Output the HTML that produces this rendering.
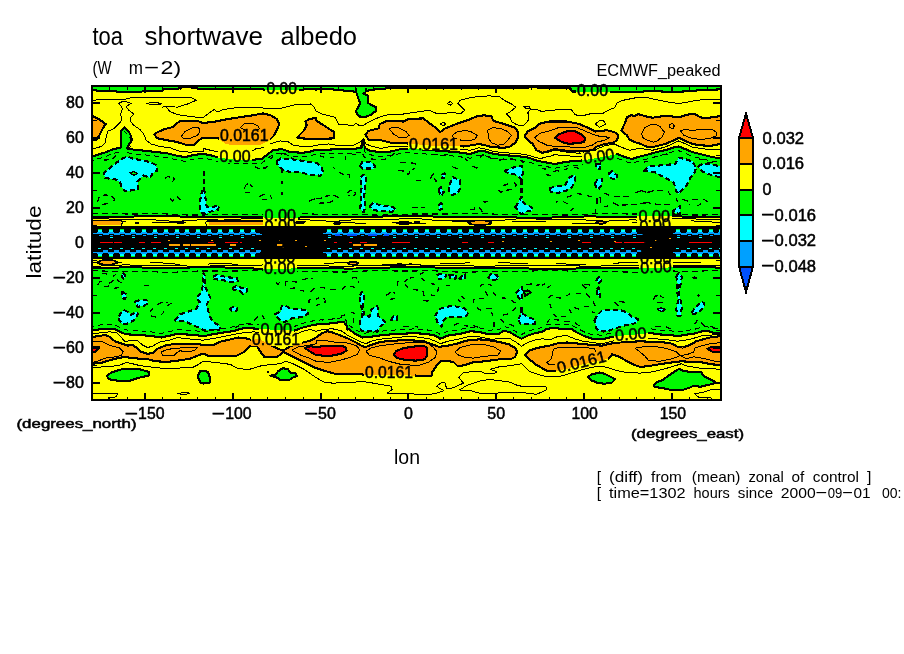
<!DOCTYPE html>
<html>
<head>
<meta charset="utf-8">
<title>toa shortwave albedo</title>
<style>
html,body{margin:0;padding:0;background:#fff;}
body{width:904px;height:654px;overflow:hidden;}
svg{display:block;}
text{font-family:"Liberation Sans",sans-serif;fill:#000;}
.n{stroke:#000;stroke-width:0.5px;}
</style>
</head>
<body>
<svg width="904" height="654" viewBox="0 0 904 654" shape-rendering="crispEdges">
<rect x="0" y="0" width="904" height="654" fill="#fff"/>
<defs>
<clipPath id="cp"><rect x="92" y="86" width="629" height="314"/></clipPath>
<mask id="lm" maskUnits="userSpaceOnUse" x="0" y="0" width="904" height="654">
<rect x="0" y="0" width="904" height="654" fill="#fff"/>
<rect x="265" y="82.5" width="33.5" height="12.5" fill="#000"/>
<rect x="575.5" y="84" width="34" height="12.5" fill="#000"/>
<rect x="218.5" y="129.5" width="51.5" height="17" fill="#000"/>
<rect x="218" y="150.5" width="34" height="12.5" fill="#000"/>
<rect x="407.5" y="138.5" width="52" height="11" fill="#000"/>
<rect x="583" y="152.5" width="34" height="12.5" fill="#000" transform="rotate(-9 584.5 164)"/>
<rect x="250.5" y="333.5" width="51" height="12.5" fill="#000"/>
<rect x="259" y="323.5" width="34.5" height="12.5" fill="#000"/>
<rect x="363.5" y="366.5" width="51" height="12.5" fill="#000"/>
<rect x="557" y="362" width="53" height="12.5" fill="#000" transform="rotate(-14 558.5 373.5)"/>
<rect x="614" y="329.5" width="34.5" height="12.5" fill="#000" transform="rotate(-5 615.5 341)"/>
<rect x="263" y="209.5" width="34.5" height="12.5" fill="#000"/>
<rect x="263.5" y="220.5" width="34.5" height="12.5" fill="#000" transform="rotate(-4 265 232)"/>
<rect x="262.5" y="252.5" width="34.5" height="12.5" fill="#000" transform="rotate(-3 264 264)"/>
<rect x="262.5" y="262" width="34.5" height="12.5" fill="#000"/>
<rect x="637" y="210.5" width="34.5" height="12.5" fill="#000"/>
<rect x="638.5" y="220.5" width="34.5" height="12.5" fill="#000" transform="rotate(-5 640 232)"/>
<rect x="638.5" y="252.5" width="34.5" height="12.5" fill="#000"/>
<rect x="639" y="262" width="34.5" height="12.5" fill="#000" transform="rotate(-3 640.5 273.5)"/>
</mask>
<g id="plot" stroke-linejoin="round" stroke-linecap="butt">
<rect x="92" y="86" width="629" height="314" fill="#ffff00"/>
<polygon points="90,84 90,90.25 96.25,90.25 97,91 116.25,91 117.5,92.25 140,92.25 142.5,91.25 161.25,91.25 163.75,89.25 177.5,89 180,87.5 190,87.25 192.5,88 203,89 215.5,89 261.75,89 265.5,90.25 303,90.25 304.25,89 316,89.5 328.5,89 341,90.25 353.5,91.5 356,92.25 366,90.88 373.5,89.62 391,88 429,87.75 527.75,87.75 529,87 542,87.75 570.75,88.5 572,91.5 612,92 640,92 640,91.75 652.5,90.88 671.25,92.12 683.75,91.5 700,90.25 722.5,89.25 723,84" fill="#00fa00" stroke="#000" stroke-width="2.1"/>
<polygon points="88.75,157.12 92.5,156.5 100,154 106.25,152.12 113.75,149 120.62,147.75 120.62,131.5 124.38,127.12 128.75,131.5 130.62,135.25 131.88,140.25 129.38,144 126.88,148.38 133.75,149.62 146.25,150.88 157.5,152.12 167.5,153.38 177.5,155.88 185,157.12 192.5,155.25 203,153.75 210.5,155.25 219.25,157.75 234.25,159.62 254.25,159.62 261.75,159 268,154 273,150.25 281.75,149 290.5,152.12 303,152.75 310.5,151.5 316,149.75 328.5,149.62 341,149 353.5,149 361,147.75 362.88,139.62 365,147.75 368.5,150.25 378.5,152.12 391,151.5 401,149 411,148.38 416,149 429,150 441.5,150.88 456.5,152.12 470.25,154 479,150.88 485.25,151.5 494,154 504,155.25 516.5,155.88 529,157.75 535.25,160.25 542,161.75 548.25,162.75 554.5,164 567,161.75 582,160.5 598.25,157.75 617,154 627,157.75 632,159 640,156.5 647.5,154.62 656.25,152.12 665,150.25 672.5,147.75 678.75,146.5 685,149 692.5,152.12 702.5,154.62 710,156.5 723.75,159.25 725,225 88,225" fill="#00fa00" stroke="#000" stroke-width="2.1"/>
<polygon points="88,260 725,260 723.75,333.75 712.5,332.5 706.25,330.62 700,331.88 693.75,333.75 683.75,335 677.5,336.25 671.25,335 658.75,334.38 651.25,333.12 640,334 629.5,335 614.5,336.25 609.5,337.5 602,339.38 592,338.75 584.5,336.25 577,332.5 572,329.38 562,328.75 553.25,328.12 547,328.75 542,331.88 535.25,333.12 527.75,335.62 521.5,338.75 516.5,336.25 510.25,332.5 504,330.62 499,333.75 489,334.38 479,331.88 470.25,331.25 460.25,333.75 447.75,335.62 440.25,338.75 435.25,335.62 429,334.38 423.5,333.75 413.5,333.12 403.5,333.75 391,334.38 378.5,335.62 369.75,336.88 362.25,337.5 354.75,333.75 348.5,328.75 347.25,329.75 346.62,325.5 343.5,321.75 328.5,323.62 316,324.5 310.5,325.62 303,327.5 294.25,330.62 278,330 258,328.75 246.75,328.12 240.5,328.75 235.5,330.62 228,331.88 219.25,333.12 209.25,335 203,336.5 196.25,335 185,334.38 177.5,333.75 170,335.62 161.25,337.5 152.5,336.25 140,335 127.5,334.38 122.5,333.12 115,329.38 102.5,328.75 92.5,330.62 88.75,330.62" fill="#00fa00" stroke="#000" stroke-width="2.1"/>
<polygon points="88.75,115.25 92.5,115.88 97.5,118.38 102.5,121.5 105.62,124 102.5,129 99.38,135.25 96.25,139.62 92.5,140.25 88.75,140.25" fill="#ffa500" stroke="#000" stroke-width="2.1"/>
<polygon points="154.38,134.62 157.5,132.12 165,129 172.5,127.12 180,120.88 197.5,120.88 203,123 215.5,121.5 228,119 240.5,117.12 253,115.25 263,113.38 270.5,115.25 276.75,119 279.25,124 276.75,130.25 274.25,135.25 269.25,140.25 259.25,145.25 234.25,145.25 225.5,144 218,138 203,137.75 198.75,140.25 193.75,145.25 187.5,145.25 177.5,142.12 167.5,140.25 157.5,138.38" fill="#ffa500" stroke="#000" stroke-width="2.1"/>
<polygon points="297.38,137.75 299.25,135.25 304.25,130.25 306.75,125.25 305.5,121.5 309.25,119 316,118 316,120.25 323.5,125.25 334.12,132.12 334.12,138.38 316,139 303,138.5" fill="#ffa500" stroke="#000" stroke-width="2.1"/>
<polygon points="365.38,134.62 368.5,130.88 378.5,128.38 379.75,124 387.25,120.88 403.5,121.5 408.5,119 423.5,118.38 429,123 434,126.5 440.25,132.12 445.25,128.38 457.75,123.38 469,119.62 476.5,116.5 484,115.25 491.5,116.5 493.38,120.88 504,124 515.25,127.75 517.75,131.5 517.75,137.75 515.25,142.75 510.25,146.5 504,147.75 491.5,147.12 485.25,145.25 479,144 464,146.5 457.75,146.12 429,145.5 408.5,143.5 403.5,143.38 391,142.75 381,140.25 368.5,139.62" fill="#ffa500" stroke="#000" stroke-width="2.1"/>
<polygon points="524.62,135.88 527.75,131.5 535.25,127.75 539,124 542,123.12 549.5,121.5 567,121.5 579.5,124 592,129.62 595.75,131.5 607,130.25 614.5,132.12 618.25,135.25 617,140.25 613.25,142.75 604.5,144 597,146.5 592,150.25 579.5,151.5 567,150.88 554.5,149 547,151.5 542,152.75 536.5,150.25 532.75,144 526.5,139" fill="#ffa500" stroke="#000" stroke-width="2.1"/>
<polygon points="621.38,130.88 624.5,124 627,117.12 630.75,115.25 634.5,115.88 638.25,114 640,114.62 646.25,116.5 652.5,117.75 658.75,116.75 665,115.88 672.5,116.5 680,117.12 687.5,114.62 695,114 700,117.12 705,118.38 712.5,117.12 723.75,115.62 723.75,142.75 715,145.25 710,145.88 700,145.25 692.5,144 685,140.88 678.75,137.75 672.5,140.88 665,144 652.5,147.12 646.25,146.5 640,143.62 634.5,142.12 629.5,139.62 627,135.25" fill="#ffa500" stroke="#000" stroke-width="2.1"/>
<polygon points="555.12,137.75 559.5,134 568.25,130.88 575.75,131.5 582,134.62 585.12,138.38 583.88,142.12 575.75,143.38 568.25,143.75 562,142.12" fill="#ff0000" stroke="#000" stroke-width="2.1"/>
<polygon points="356,89 356.25,92.25 358.5,99 360.38,103.38 356,110.88 357.25,114.62 359.75,116.5 366,116.75 371,114.62 376,110.88 376,107.12 371,104.62 367.88,102.75 368.5,95.88 363.25,93.38 366,90.88 366,89" fill="#00fa00" stroke="#000" stroke-width="2.1"/>
<rect x="357" y="87" width="8" height="5" fill="#00fa00"/>
<polygon points="88.75,337.5 97.5,336.25 105,335 108.75,336.25 115,341.25 122.5,343.75 127.5,345.62 132.5,345 136.25,347.5 141.25,351.88 147.5,353.75 152.5,353.12 157.5,348.75 165,345.62 175,343.75 185,343.75 196.25,343.75 203,345 210.5,345 215.5,344.38 219.25,341.88 228,340 238,337.5 245.5,338.12 251.75,340 259.25,338.75 268,343.75 278,348.75 283,350.62 290.5,346.25 299.25,343.75 303,342.5 310.5,340.62 316,337.5 322.25,333.12 327.25,331.25 332.25,332.5 341,335.62 348.5,338.75 356,342.5 362.25,346.25 366,346.88 371,345 378.5,342.5 386,341.25 396,340.62 403.5,340 416,340.62 423.5,341.25 429,343.12 439,346.88 447.75,345.62 456.5,343.75 466.5,340.62 479,339.38 487.75,340 499,341.88 509,344.38 515.25,348.12 517.12,351.88 515.25,356.88 510.25,359.38 499,359.38 485.25,361.25 472.75,362.5 465.25,365 457.75,366.25 454,362.5 447.75,360.62 440.25,361.25 435.25,367.5 432.12,372.5 431.5,375.62 429,375.62 421,375.62 366,375 356,373.75 334.75,373.75 326,371.25 316,368.12 308,364.38 300.5,360.62 290.5,355.62 283,351.88 281.75,353.75 276.75,356.88 264.25,356.88 259.25,350 256.75,345.62 249.25,346.25 244.25,351.88 236.75,355.62 221.75,356.25 208,355.62 203,353.5 190,358.75 177.5,360.62 167.5,361.88 155,361.25 146.25,358.75 140,358.75 132.5,358.12 125,356.88 115,358.75 102.5,362.5 92.5,363.75 88.75,363.75" fill="#ffa500" stroke="#000" stroke-width="2.1"/>
<polygon points="525.25,355 529,350.62 536.5,348.12 542,346.88 549.5,345.62 558.25,343.12 567,342.5 579.5,343.75 592,345 602,345.62 609.5,343.75 619.5,342.5 629.5,341.88 640,341.25 652.5,341.88 665,342.5 672.5,343.75 677.5,346.88 682.5,347.5 690,345 696.25,341.25 705,338.75 712.5,336.88 723.75,336 723.75,365.25 712.5,364.38 702.5,362.5 690,361.88 681.25,361.25 671.25,362.5 658.75,364.38 647.5,366.25 640,366.88 634.5,365 627,361.25 619.5,356.88 612,354.38 609.5,358.12 602,360.62 592,362.5 579.5,365 567,368.75 557,370.62 547,370.62 542,368.12 536.5,365 530.25,360" fill="#ffa500" stroke="#000" stroke-width="2.1"/>
<polygon points="304.88,348.12 310.5,346.25 316,346.88 323.5,346.25 341,345.62 346,347.5 346.62,350.62 341,353.75 328.5,356.25 316,355 310.5,351.88" fill="#ff0000" stroke="#000" stroke-width="2.1"/>
<polygon points="393.5,355 396,351.25 403.5,348.12 416,346.25 423.5,345.62 426.62,347.5 426.62,356.25 424.75,359.38 416,360.62 406,360 397.25,358.12" fill="#ff0000" stroke="#000" stroke-width="2.1"/>
<polygon points="88.75,347.25 99.38,347.5 97.5,350 95,351.88 88.75,352.12" fill="#ff0000" stroke="#000" stroke-width="2.1"/>
<polygon points="707.5,348.75 711.25,346.88 723.75,346.88 723.75,352.12 712.5,351.88" fill="#ff0000" stroke="#000" stroke-width="2.1"/>
<polygon points="106.88,376.25 111.25,372.5 121.25,369.38 131.25,368.75 140,369.38 148.75,371.88 148.75,375.62 140,377.5 130,380.62 117.5,380.62 109.38,379.38" fill="#00fa00" stroke="#000" stroke-width="2.1"/>
<polygon points="198.12,375 200,371.25 203,370.62 208,371.88 209.25,376.25 210.5,378.75 209.25,383.12 203,383.5 200.62,382.5 198.12,377.5" fill="#00fa00" stroke="#000" stroke-width="2.1"/>
<polygon points="270.5,375.62 275.5,375 278,371.25 283,368.12 288,369.38 290.5,372.5 295.5,373.12 296.75,376.25 293,377.5 289.25,380 280.5,380 276.75,377.5" fill="#00fa00" stroke="#000" stroke-width="2.1"/>
<polygon points="266.38,372.25 268,370.25 269.5,372.25 268,374" fill="#000" stroke="#000" stroke-width="0"/>
<polygon points="587.62,376.88 592,374.38 599.5,372.5 604.5,373.75 612,377.5 615.12,379.38 612,382.5 604.5,383.75 598.25,383.12 592,380.62" fill="#00fa00" stroke="#000" stroke-width="2.1"/>
<polygon points="653.75,385 656.25,382.5 662.5,380 668.75,375.62 675,371.25 679.38,368.75 683.75,371.25 692.5,371.88 701.25,372.5 703.75,376.25 710,379.38 715,381.88 713.75,383.75 707.5,385 700,386.88 693.75,385.62 690,387.5 682.5,390 671.25,390 662.5,388.12 655,386.88" fill="#00fa00" stroke="#000" stroke-width="2.1"/>
<polygon points="115,164 121.25,159 127.5,156.5 133.75,159 142.5,160.25 150,162.1 156,165 157.5,170.4 152.5,173.5 150,177.9 143.75,175.4 137.5,181 138.1,189.75 131.25,190.4 125,191 121.9,187.9 120,182.25 115,179.1 108.75,178.5 105,177.9 103.75,173.5 107.5,169.75" fill="#00ffff" stroke="#000" stroke-width="2.1" stroke-dasharray="5 3"/>
<polygon points="130,172.88 133.75,171.62 137.5,173.5 133.75,175.38" fill="#00fa00" stroke="#000" stroke-width="1.5"/>
<polygon points="276.75,161.5 280.5,158.4 290.5,159 303,160.9 316,162.75 321,166 323.5,173.5 319.75,176 316,174.5 309.25,174.75 300.5,172.25 290.5,172.25 283,169.75 278,166" fill="#00ffff" stroke="#000" stroke-width="2.1" stroke-dasharray="5 3"/>
<polyline points="203.75,171 203.75,192" fill="none" stroke="#000" stroke-width="2.1" stroke-dasharray="5 3"/>
<polyline points="282,170 282,200" fill="none" stroke="#000" stroke-width="2.1" stroke-dasharray="3 8"/>
<polygon points="202,191 204.5,191 206.75,207.25 219.25,206 218,209.75 210.5,211.6 205.5,214 200.5,212 200,201" fill="#00ffff" stroke="#000" stroke-width="2.1" stroke-dasharray="5 3"/>
<polygon points="360.38,177.25 362.88,174.75 366,176.62 365.38,186 364.12,197.25 365.38,207.25 363.5,212.25 360.38,208.5 361,197.25 361.62,186" fill="#00ffff" stroke="#000" stroke-width="2.1" stroke-dasharray="5 3"/>
<polygon points="360,166 362.25,162 370,162 375,166 374,168.5 362,168.5" fill="#00ffff" stroke="#000" stroke-width="2.1" stroke-dasharray="5 3"/>
<polygon points="369.75,206 373.5,202.25 378.5,204.75 387.25,206 393.5,207.25 396,209.75 392.25,211.62 381,211.25 372.25,209.75" fill="#00ffff" stroke="#000" stroke-width="2.1" stroke-dasharray="5 3"/>
<polygon points="449.62,184.75 452.75,177.25 455.88,178.5 460.25,179.75 459.62,189.75 456.5,194.12 450.88,194.75 449,191" fill="#00ffff" stroke="#000" stroke-width="2.1" stroke-dasharray="5 3"/>
<polygon points="438.38,189.75 440.88,187.25 444,192.25 440.88,196" fill="#00ffff" stroke="#000" stroke-width="2.1" stroke-dasharray="5 3"/>
<polygon points="439,204.75 441.5,202.88 442.12,208.5 439.62,210.38" fill="#00ffff" stroke="#000" stroke-width="2.1" stroke-dasharray="5 3"/>
<polygon points="441.5,174.75 444.62,173.5 445.25,177.88 442.12,178.5" fill="#00ffff" stroke="#000" stroke-width="2.1" stroke-dasharray="5 3"/>
<polygon points="504,171 514,167.25 522.12,166 522.75,173.5 521.5,179.75 516.5,174.75 509,173.5" fill="#00ffff" stroke="#000" stroke-width="2.1" stroke-dasharray="5 3"/>
<polyline points="521.5,179.75 521.5,197.25" fill="none" stroke="#000" stroke-width="2.1" stroke-dasharray="5 3"/>
<polygon points="515.25,207.25 519,201 521.5,197.25 524,203.5 531.5,207.25 532.75,210.38 526.5,211.62 521.5,214.12 517.75,210.38" fill="#00ffff" stroke="#000" stroke-width="2.1" stroke-dasharray="5 3"/>
<polygon points="549.5,188.5 554.5,186.62 564.5,186 569.5,177.25 574.5,175.38 575.12,179.75 572,187.25 567,190.38 558.25,192.88 550.75,191.62" fill="#00ffff" stroke="#000" stroke-width="2.1" stroke-dasharray="5 3"/>
<polygon points="595.12,183.5 597.62,179.12 602,178.5 601.38,184.75 598.25,189.75 595.75,187.25" fill="#00ffff" stroke="#000" stroke-width="2.1" stroke-dasharray="5 3"/>
<polygon points="608.88,173.5 612,171 617,175.38 616.38,179.12 612,178.5 609.5,177.25" fill="#00ffff" stroke="#000" stroke-width="2.1" stroke-dasharray="5 3"/>
<polygon points="595.75,163.5 600.75,163.5 600.12,169.12 597,169.12" fill="#00ffff" stroke="#000" stroke-width="2.1" stroke-dasharray="5 3"/>
<polygon points="643.75,171 648,166.5 660,165.5 675,164 678.75,157.75 685,159 692.5,161.5 695,165.75 696.25,166 695,172.25 690,178.5 686.25,186 681.25,191 678.75,194 676.25,191 673.75,182.25 665,177.9 655,172.25" fill="#00ffff" stroke="#000" stroke-width="2.1" stroke-dasharray="5 3"/>
<polygon points="698.25,166.5 703,163.5 712,164.5 723,167 723,178 712,175.25 702,171.5" fill="#00ffff" stroke="#000" stroke-width="2.1" stroke-dasharray="5 3"/>
<polygon points="671.88,211.62 680,206 680,214.12" fill="#00ffff" stroke="#000" stroke-width="2.1" stroke-dasharray="5 3"/>
<polygon points="118.75,316.12 123.75,309.88 127.5,311.75 131.25,314.88 136.25,311.75 138.12,313.62 133.75,320.5 127.5,323.62 122.5,324.25 119.38,320.5" fill="#00ffff" stroke="#000" stroke-width="2.1" stroke-dasharray="5 3"/>
<polygon points="135,301.75 140,299.88 146.25,299.88 148.12,303 143.75,306.12 137.5,306.75" fill="#00ffff" stroke="#000" stroke-width="2.1" stroke-dasharray="5 3"/>
<polygon points="121.88,291.75 126.25,294.25 125,299.25 122.5,298" fill="#00ffff" stroke="#000" stroke-width="2.1" stroke-dasharray="5 3"/>
<polygon points="122.5,273 125,274.88 124.38,279.25 122.25,277.38" fill="#00ffff" stroke="#000" stroke-width="2.1" stroke-dasharray="5 3"/>
<polygon points="175,320.5 180,314.25 187.5,311.75 196.25,309.25 200,301.75 196.5,298 201,293 203,285 203.5,273 205.5,276.75 204.5,285.5 210.5,298 206.75,304.25 209.25,315.5 213,321.75 220.5,326.75 219,330 205,330.5 195,326 185,321.5" fill="#00ffff" stroke="#000" stroke-width="2.1" stroke-dasharray="5 3"/>
<polygon points="213,276.75 216.75,274.88 228,277.38 236.75,278 238,281.12 231.75,282.38 221.75,279.88 214.25,279.25" fill="#00ffff" stroke="#000" stroke-width="2.1" stroke-dasharray="5 3"/>
<polygon points="231.75,288 236.12,286.12 241.75,288 246.75,287.38 246.75,291.75 243,293.62 239.25,290.5 234.25,289.88" fill="#00ffff" stroke="#000" stroke-width="2.1" stroke-dasharray="5 3"/>
<polygon points="229.88,309.25 233,306.75 237.38,308 236.75,310.5 232.38,311.12" fill="#00ffff" stroke="#000" stroke-width="2.1" stroke-dasharray="5 3"/>
<polygon points="274.88,314.25 280.5,311.75 281.75,306.12 285.5,305.5 290.5,308.62 298,309.25 306.75,309.88 308,313.62 303,316.75 295.5,318 290.5,318.62 284.25,322.38 279.25,319.25" fill="#00ffff" stroke="#000" stroke-width="2.1" stroke-dasharray="5 3"/>
<polygon points="359.75,295.5 362.25,291.75 364.12,295.5 363.5,303 362.88,308 364.12,315.5 369.75,316.75 371.62,309.25 377.25,306.12 378.5,310.5 377.88,315.5 383.5,320.5 386,323 381,325.5 378.5,329.75 377.88,331.5 366,331.12 361.62,330.5 359.75,328 359.75,323 362.25,315.5 361.62,308 360.38,303" fill="#00ffff" stroke="#000" stroke-width="2.1" stroke-dasharray="5 3"/>
<polygon points="391,319.88 393.5,316.12 397.25,316.12 397.25,319.88" fill="#00ffff" stroke="#000" stroke-width="2.1" stroke-dasharray="5 3"/>
<polygon points="435.25,316.12 439,309.25 445.25,306.75 454,306.12 464,308 468.38,313 465.25,316.75 456.5,316.75 446.5,317.38 442.75,321.75 441.5,326.75 437.75,323" fill="#00ffff" stroke="#000" stroke-width="2.1" stroke-dasharray="5 3"/>
<polygon points="437.12,274.88 441.5,273.62 446.5,274.88 444,278.62 439,279.25" fill="#00ffff" stroke="#000" stroke-width="2.1" stroke-dasharray="5 3"/>
<polygon points="449,274.88 456.5,274.88 455.88,278.62 450.25,278" fill="#00ffff" stroke="#000" stroke-width="2.1" stroke-dasharray="5 3"/>
<polygon points="459,278.62 465.25,273.62 464.62,278.62" fill="#00ffff" stroke="#000" stroke-width="2.1" stroke-dasharray="5 3"/>
<polygon points="488.38,277.38 491.5,273.62 496.5,274.88 499,278 495.25,279.88 490.25,279.25" fill="#00ffff" stroke="#000" stroke-width="2.1" stroke-dasharray="5 3"/>
<polygon points="515.88,293 521.5,286.75 522.75,290.5 521.5,300.5 519,298" fill="#00ffff" stroke="#000" stroke-width="2.1" stroke-dasharray="5 3"/>
<polygon points="524,291.75 527.75,290.5 530.88,292.38 527.75,294.25 525.25,296.12" fill="none" stroke="#000" stroke-width="2.1"/>
<polyline points="521.5,306.75 521.5,313" fill="none" stroke="#000" stroke-width="2.1"/>
<polygon points="518.38,319.25 521.5,313 526.5,316.12 535.25,319.88 535.25,323.62 527.75,324.25 520.25,323.62" fill="#00ffff" stroke="#000" stroke-width="2.1" stroke-dasharray="5 3"/>
<polygon points="594.5,320.5 597,315.5 602,310.5 612,309.88 622,310.5 628.25,313 632,316.75 638.25,319.25 637,323 629.5,324.25 622,326.12 614.5,328.62 612,329.5 608.25,331.12 603.25,331.5 598.25,330.5 595.75,328 595.75,325.5" fill="#00ffff" stroke="#000" stroke-width="2.1" stroke-dasharray="5 3"/>
<polygon points="596.38,280.5 598.88,276.75 601.38,280.5 598.88,283" fill="#00ffff" stroke="#000" stroke-width="2.1" stroke-dasharray="5 3"/>
<polygon points="597,289.25 598.88,287.38 600.12,296.75 597.62,296.12" fill="#00ffff" stroke="#000" stroke-width="2.1" stroke-dasharray="5 3"/>
<polygon points="676.25,276.75 678.75,273 681.88,276.75 680.62,284.25 678.75,293 680.62,300.5 681.88,306.75 680.62,315.5 677.5,316.12 676.25,309.25 678.12,300.5 677.5,293 677.5,283" fill="#00ffff" stroke="#000" stroke-width="2.1" stroke-dasharray="5 3"/>
<polygon points="691.25,313 695,308 701.25,301.75 704.38,303 703.75,308 698.75,311.75 693.75,314.25" fill="#00ffff" stroke="#000" stroke-width="2.1" stroke-dasharray="5 3"/>
<polygon points="691.25,278 694.38,276.12 698.12,278 695,279.5" fill="#000" stroke="#000" stroke-width="0"/>
<polygon points="696.88,295.5 698.75,294 700.62,295.75 698.75,297" fill="#000" stroke="#000" stroke-width="0"/>
<polygon points="657.5,309.25 661.25,308 665.62,309.5 661.88,311.75" fill="#00ffff" stroke="#000" stroke-width="1.5"/>
<polygon points="92,217.42 98,217.46 104,217.44 110,217.35 116,217.2 122,216.98 128,216.74 134,216.49 140,216.28 146,216.13 152,216.05 158,216.05 164,216.12 170,216.25 176,216.4 182,216.55 188,216.67 194,216.74 200,216.76 206,216.73 212,216.66 218,216.59 224,216.54 230,216.54 236,216.6 242,216.72 248,216.9 254,217.12 260,217.36 266,217.57 272,217.73 278,217.82 284,217.83 290,217.76 296,217.62 302,217.45 308,217.26 314,217.09 320,216.97 326,216.9 332,216.88 338,216.92 344,216.97 350,217.03 356,217.06 362,217.04 368,216.96 374,216.82 380,216.63 386,216.42 392,216.22 398,216.06 404,215.96 410,215.94 416,216.01 422,216.15 428,216.34 434,216.56 440,216.76 446,216.94 452,217.05 458,217.11 464,217.11 470,217.06 476,217 482,216.95 488,216.93 494,216.96 500,217.05 506,217.2 512,217.37 518,217.54 524,217.7 530,217.8 536,217.82 542,217.76 548,217.63 554,217.43 560,217.2 566,216.97 572,216.76 578,216.6 584,216.51 590,216.48 596,216.51 602,216.58 608,216.65 614,216.71 620,216.73 626,216.69 632,216.61 638,216.48 644,216.33 650,216.2 656,216.1 662,216.07 668,216.11 674,216.24 680,216.43 686,216.66 692,216.91 698,217.15 704,217.34 710,217.46 716,217.51 722,217.49 722,267.72 716,267.52 710,267.33 704,267.18 698,267.08 692,267.04 686,267.08 680,267.17 674,267.32 668,267.49 662,267.68 656,267.85 650,267.99 644,268.08 638,268.12 632,268.12 626,268.08 620,268.03 614,267.98 608,267.95 602,267.96 596,268.02 590,268.12 584,268.27 578,268.44 572,268.61 566,268.76 560,268.88 554,268.94 548,268.93 542,268.86 536,268.73 530,268.55 524,268.34 518,268.14 512,267.95 506,267.81 500,267.71 494,267.67 488,267.68 482,267.72 476,267.78 470,267.84 464,267.88 458,267.88 452,267.83 446,267.75 440,267.62 434,267.48 428,267.34 422,267.22 416,267.14 410,267.12 404,267.17 398,267.28 392,267.45 386,267.65 380,267.87 374,268.09 368,268.28 362,268.42 356,268.5 350,268.53 344,268.51 338,268.45 332,268.37 326,268.29 320,268.24 314,268.22 308,268.24 302,268.31 296,268.4 290,268.52 284,268.63 278,268.71 272,268.75 266,268.74 260,268.66 254,268.52 248,268.33 242,268.11 236,267.88 230,267.67 224,267.49 218,267.37 212,267.3 206,267.3 200,267.35 194,267.44 188,267.54 182,267.64 176,267.72 170,267.76 164,267.76 158,267.72 152,267.65 146,267.56 140,267.48 134,267.42 128,267.41 122,267.45 116,267.55 110,267.71 104,267.91 98,268.13 92,268.36" fill="#ffff00" stroke="#000" stroke-width="2"/>
<rect x="92" y="226" width="629" height="33" fill="#000"/>
<polyline points="92,218.59 98,218.52 104,218.73 110,219.09 116,219.42 122,219.58 128,219.54 134,219.38 140,219.26 146,219.32 152,219.64 158,220.15 164,220.7 170,221.09 176,221.2 182,221.01 188,220.6 194,220.16 200,219.86 206,219.77 212,219.87 218,220 224,220.02 230,219.82 236,219.41 242,218.91 248,218.51 254,218.36 260,218.53 266,218.96 272,219.47 278,219.9 284,220.11 290,220.09 296,219.95 302,219.85 308,219.92 314,220.21 320,220.63 326,221.01 332,221.18 338,221.05 344,220.63 350,220.07 356,219.55 362,219.24 368,219.18 374,219.31 380,219.48 386,219.54 392,219.4 398,219.09 404,218.75 410,218.56 416,218.65 422,219.03 428,219.6 434,220.18 440,220.58 446,220.72 452,220.6 458,220.37 464,220.19 470,220.18 476,220.35 482,220.62 488,220.81 494,220.78 500,220.46 506,219.92 512,219.31 518,218.85 524,218.65 530,218.74 536,219.01 542,219.31 548,219.47 554,219.44 560,219.25 566,219.07 572,219.05 578,219.3 584,219.78 590,220.36 596,220.86 602,221.12 608,221.06 614,220.76 620,220.37 626,220.06 632,219.95 638,220.04 644,220.19 650,220.26 656,220.12 662,219.73 668,219.2 674,218.7 680,218.41 686,218.43 692,218.73 698,219.19 704,219.62 710,219.86 716,219.89 722,219.77" fill="none" stroke="#000" stroke-width="1"/>
<polyline points="92,221.2 98,220.88 104,220.71 110,220.74 116,220.96 122,221.31 128,221.73 134,222.13 140,222.43 146,222.59 152,222.61 158,222.52 164,222.4 170,222.32 176,222.34 182,222.5 188,222.78 194,223.14 200,223.49 206,223.75 212,223.85 218,223.76 224,223.49 230,223.08 236,222.61 242,222.17 248,221.85 254,221.67 260,221.65 266,221.75 272,221.89 278,222.01 284,222.03 290,221.93 296,221.71 302,221.42 308,221.14 314,220.94 320,220.9 326,221.04 332,221.36 338,221.81 344,222.31 350,222.76 356,223.09 362,223.26 368,223.26 374,223.14 380,222.95 386,222.78 392,222.69 398,222.73 404,222.88 410,223.1 416,223.32 422,223.46 428,223.46 434,223.28 440,222.93 446,222.46 452,221.96 458,221.51 464,221.19 470,221.05 476,221.09 482,221.26 488,221.51 494,221.74 500,221.89 506,221.93 512,221.84 518,221.68 524,221.51 530,221.41 536,221.45 542,221.65 548,222.01 554,222.47 560,222.96 566,223.38 572,223.66 578,223.76 584,223.67 590,223.43 596,223.12 602,222.82 608,222.6 614,222.51 620,222.53 626,222.65 632,222.78 638,222.86 644,222.81 650,222.61 656,222.27 662,221.83 668,221.38 674,221 680,220.77 686,220.73 692,220.89 698,221.19 704,221.56 710,221.93 716,222.2 722,222.35" fill="none" stroke="#000" stroke-width="1" stroke-dasharray="34 26"/>
<polyline points="92,262.46 98,262.59 104,262.78 110,262.95 116,263.02 122,262.94 128,262.74 134,262.49 140,262.28 146,262.19 152,262.3 158,262.61 164,263.08 170,263.62 176,264.12 182,264.47 188,264.63 194,264.58 200,264.39 206,264.13 212,263.9 218,263.78 224,263.81 230,263.95 236,264.14 242,264.29 248,264.31 254,264.14 260,263.78 266,263.3 272,262.77 278,262.32 284,262.03 290,261.96 296,262.09 302,262.37 308,262.7 314,262.98 320,263.15 326,263.17 332,263.07 338,262.92 344,262.82 350,262.85 356,263.05 362,263.41 368,263.89 374,264.37 380,264.75 386,264.95 392,264.93 398,264.7 404,264.34 410,263.94 416,263.6 422,263.4 428,263.36 434,263.43 440,263.56 446,263.64 452,263.6 458,263.4 464,263.05 470,262.61 476,262.2 482,261.9 488,261.8 494,261.93 500,262.25 506,262.69 512,263.14 518,263.51 524,263.73 530,263.77 536,263.69 542,263.56 548,263.47 554,263.5 560,263.68 566,264 572,264.37 578,264.71 584,264.91 590,264.9 596,264.68 602,264.27 608,263.77 614,263.29 620,262.92 626,262.71 632,262.69 638,262.8 644,262.97 650,263.08 656,263.09 662,262.95 668,262.69 674,262.39 680,262.13 686,262.03 692,262.12 698,262.43 704,262.9 710,263.43 716,263.92 722,264.27" fill="none" stroke="#000" stroke-width="1" stroke-dasharray="30 28"/>
<polyline points="92,266.16 98,266.13 104,265.91 110,265.56 116,265.21 122,264.99 128,264.96 134,265.1 140,265.29 146,265.41 152,265.41 158,265.3 164,265.2 170,265.21 176,265.4 182,265.73 188,266.07 194,266.3 200,266.33 206,266.17 212,265.94 218,265.74 224,265.68 230,265.74 236,265.83 242,265.83 248,265.68 254,265.39 260,265.07 266,264.85 272,264.82 278,264.99 284,265.27 290,265.53 296,265.66 302,265.64 308,265.56 314,265.52 320,265.62 326,265.86 332,266.15 338,266.36 344,266.38 350,266.19 356,265.88 362,265.58 368,265.39 374,265.37 380,265.45 386,265.53 392,265.49 398,265.31 404,265.07 410,264.89 416,264.87 422,265.06 428,265.39 434,265.73 440,265.95 446,266 452,265.92 458,265.8 464,265.77 470,265.88 476,266.07 482,266.23 488,266.24 494,266.06 500,265.72 506,265.36 512,265.11 518,265.04 524,265.14 530,265.3 536,265.39 542,265.37 548,265.24 554,265.1 560,265.09 566,265.25 572,265.57 578,265.94 584,266.2 590,266.28 596,266.17 602,265.97 608,265.8 614,265.76 620,265.83 626,265.94 632,265.96 638,265.83 644,265.53 650,265.19 656,264.92 662,264.84 668,264.96 674,265.2 680,265.43 686,265.55 692,265.53 698,265.44 704,265.4 710,265.5 716,265.75 722,266.07" fill="none" stroke="#000" stroke-width="1"/>
<rect x="92" y="220.6" width="29" height="4.4" fill="#ffa500"/>
<polyline points="92,220.3 121,220.3 122.5,222.5 121,225.3" fill="none" stroke="#000" stroke-width="1.2"/>
<rect x="209" y="221.4" width="54" height="3.6" fill="#ffa500"/>
<polyline points="263,221 207,221 205,223 207,225.3" fill="none" stroke="#000" stroke-width="1.2"/>
<ellipse cx="480" cy="222.8" rx="12.6" ry="3.2" fill="#000"/>
<ellipse cx="480" cy="222.8" rx="9" ry="1.6" fill="#ffa500"/>
<ellipse cx="107.5" cy="262.3" rx="11.1" ry="3.2" fill="#000"/>
<ellipse cx="107.5" cy="262.3" rx="7.5" ry="1.6" fill="#ffa500"/>
<ellipse cx="353" cy="263.3" rx="6.6" ry="2.3" fill="#000"/>
<ellipse cx="353" cy="263.3" rx="3" ry="0.7" fill="#ffa500"/>
<ellipse cx="601" cy="222.5" rx="5.6" ry="2.2" fill="#000"/>
<ellipse cx="601" cy="222.5" rx="2" ry="0.6" fill="#ffa500"/>
<ellipse cx="180.5" cy="222.5" rx="3.8" ry="1.8" fill="#000"/>
<ellipse cx="337" cy="223.5" rx="4" ry="1.5" fill="#000"/>
<ellipse cx="404" cy="223" rx="8" ry="2" fill="#000"/>
<ellipse cx="417" cy="222" rx="3" ry="1.2" fill="#000"/>
<ellipse cx="399.5" cy="264" rx="3" ry="1.2" fill="#000"/>
<ellipse cx="137" cy="223" rx="2" ry="1" fill="#000"/>
<ellipse cx="300" cy="222.5" rx="5" ry="1.5" fill="#000"/>
<rect x="98" y="229" width="4" height="1" fill="#00fa00"/>
<rect x="98" y="230" width="4" height="2" fill="#00ffff"/>
<rect x="97" y="232" width="6" height="2" fill="#00a0ff"/>
<rect x="103" y="234" width="6" height="1" fill="#00a0ff"/>
<rect x="99" y="235" width="3" height="1" fill="#00a0ff"/>
<rect x="98" y="256" width="4" height="1" fill="#00fa00"/>
<rect x="98" y="254" width="4" height="2" fill="#00ffff"/>
<rect x="97" y="252" width="6" height="2" fill="#00a0ff"/>
<rect x="103" y="250" width="5" height="2" fill="#00a0ff"/>
<rect x="98" y="248" width="3" height="1" fill="#00ffff"/>
<rect x="109" y="229" width="4" height="1" fill="#00fa00"/>
<rect x="109" y="230" width="4" height="2" fill="#00ffff"/>
<rect x="108" y="232" width="6" height="2" fill="#00a0ff"/>
<rect x="114" y="234" width="6" height="1" fill="#00a0ff"/>
<rect x="110" y="235" width="3" height="1" fill="#00a0ff"/>
<rect x="110" y="237" width="3" height="1" fill="#00ffff"/>
<rect x="109" y="256" width="4" height="1" fill="#00fa00"/>
<rect x="109" y="254" width="4" height="2" fill="#00ffff"/>
<rect x="108" y="252" width="6" height="2" fill="#00a0ff"/>
<rect x="114" y="250" width="5" height="2" fill="#00a0ff"/>
<rect x="109" y="248" width="3" height="1" fill="#00ffff"/>
<rect x="120" y="229" width="4" height="1" fill="#00fa00"/>
<rect x="120" y="230" width="4" height="2" fill="#00ffff"/>
<rect x="119" y="232" width="6" height="2" fill="#00a0ff"/>
<rect x="125" y="234" width="6" height="1" fill="#00a0ff"/>
<rect x="121" y="235" width="3" height="1" fill="#00a0ff"/>
<rect x="120" y="256" width="4" height="1" fill="#00fa00"/>
<rect x="120" y="254" width="4" height="2" fill="#00ffff"/>
<rect x="119" y="252" width="6" height="2" fill="#00a0ff"/>
<rect x="125" y="250" width="5" height="2" fill="#00a0ff"/>
<rect x="120" y="248" width="3" height="1" fill="#00ffff"/>
<rect x="131" y="229" width="4" height="1" fill="#00fa00"/>
<rect x="131" y="230" width="4" height="2" fill="#00ffff"/>
<rect x="130" y="232" width="6" height="2" fill="#00a0ff"/>
<rect x="136" y="234" width="6" height="1" fill="#00a0ff"/>
<rect x="132" y="235" width="3" height="1" fill="#00a0ff"/>
<rect x="132" y="237" width="3" height="1" fill="#00ffff"/>
<rect x="131" y="256" width="4" height="1" fill="#00fa00"/>
<rect x="131" y="254" width="4" height="2" fill="#00ffff"/>
<rect x="130" y="252" width="6" height="2" fill="#00a0ff"/>
<rect x="136" y="250" width="5" height="2" fill="#00a0ff"/>
<rect x="131" y="248" width="3" height="1" fill="#00ffff"/>
<rect x="142" y="229" width="4" height="1" fill="#00fa00"/>
<rect x="142" y="230" width="4" height="2" fill="#00ffff"/>
<rect x="141" y="232" width="6" height="2" fill="#00a0ff"/>
<rect x="147" y="234" width="6" height="1" fill="#00a0ff"/>
<rect x="143" y="235" width="3" height="1" fill="#00a0ff"/>
<rect x="142" y="256" width="4" height="1" fill="#00fa00"/>
<rect x="142" y="254" width="4" height="2" fill="#00ffff"/>
<rect x="141" y="252" width="6" height="2" fill="#00a0ff"/>
<rect x="147" y="250" width="5" height="2" fill="#00a0ff"/>
<rect x="142" y="248" width="3" height="1" fill="#00ffff"/>
<rect x="153" y="229" width="4" height="1" fill="#00fa00"/>
<rect x="153" y="230" width="4" height="2" fill="#00ffff"/>
<rect x="152" y="232" width="6" height="2" fill="#00a0ff"/>
<rect x="158" y="234" width="6" height="1" fill="#00a0ff"/>
<rect x="154" y="235" width="3" height="1" fill="#00a0ff"/>
<rect x="154" y="237" width="3" height="1" fill="#00ffff"/>
<rect x="153" y="256" width="4" height="1" fill="#00fa00"/>
<rect x="153" y="254" width="4" height="2" fill="#00ffff"/>
<rect x="152" y="252" width="6" height="2" fill="#00a0ff"/>
<rect x="158" y="250" width="5" height="2" fill="#00a0ff"/>
<rect x="153" y="248" width="3" height="1" fill="#00ffff"/>
<rect x="164" y="229" width="4" height="1" fill="#00fa00"/>
<rect x="164" y="230" width="4" height="2" fill="#00ffff"/>
<rect x="163" y="232" width="6" height="2" fill="#00a0ff"/>
<rect x="169" y="234" width="6" height="1" fill="#00a0ff"/>
<rect x="165" y="235" width="3" height="1" fill="#00a0ff"/>
<rect x="164" y="256" width="4" height="1" fill="#00fa00"/>
<rect x="164" y="254" width="4" height="2" fill="#00ffff"/>
<rect x="163" y="252" width="6" height="2" fill="#00a0ff"/>
<rect x="169" y="250" width="5" height="2" fill="#00a0ff"/>
<rect x="164" y="248" width="3" height="1" fill="#00ffff"/>
<rect x="175" y="229" width="4" height="1" fill="#00fa00"/>
<rect x="175" y="230" width="4" height="2" fill="#00ffff"/>
<rect x="174" y="232" width="6" height="2" fill="#00a0ff"/>
<rect x="180" y="234" width="6" height="1" fill="#00a0ff"/>
<rect x="176" y="235" width="3" height="1" fill="#00a0ff"/>
<rect x="176" y="237" width="3" height="1" fill="#00ffff"/>
<rect x="175" y="256" width="4" height="1" fill="#00fa00"/>
<rect x="175" y="254" width="4" height="2" fill="#00ffff"/>
<rect x="174" y="252" width="6" height="2" fill="#00a0ff"/>
<rect x="180" y="250" width="5" height="2" fill="#00a0ff"/>
<rect x="175" y="248" width="3" height="1" fill="#00ffff"/>
<rect x="185" y="229" width="4" height="1" fill="#00fa00"/>
<rect x="185" y="230" width="4" height="2" fill="#00ffff"/>
<rect x="184" y="232" width="6" height="2" fill="#00a0ff"/>
<rect x="190" y="234" width="6" height="1" fill="#00a0ff"/>
<rect x="186" y="235" width="3" height="1" fill="#00a0ff"/>
<rect x="185" y="256" width="4" height="1" fill="#00fa00"/>
<rect x="185" y="254" width="4" height="2" fill="#00ffff"/>
<rect x="184" y="252" width="6" height="2" fill="#00a0ff"/>
<rect x="190" y="250" width="5" height="2" fill="#00a0ff"/>
<rect x="185" y="248" width="3" height="1" fill="#00ffff"/>
<rect x="196" y="229" width="4" height="1" fill="#00fa00"/>
<rect x="196" y="230" width="4" height="2" fill="#00ffff"/>
<rect x="195" y="232" width="6" height="2" fill="#00a0ff"/>
<rect x="201" y="234" width="6" height="1" fill="#00a0ff"/>
<rect x="197" y="235" width="3" height="1" fill="#00a0ff"/>
<rect x="197" y="237" width="3" height="1" fill="#00ffff"/>
<rect x="196" y="256" width="4" height="1" fill="#00fa00"/>
<rect x="196" y="254" width="4" height="2" fill="#00ffff"/>
<rect x="195" y="252" width="6" height="2" fill="#00a0ff"/>
<rect x="201" y="250" width="5" height="2" fill="#00a0ff"/>
<rect x="196" y="248" width="3" height="1" fill="#00ffff"/>
<rect x="207" y="229" width="4" height="1" fill="#00fa00"/>
<rect x="207" y="230" width="4" height="2" fill="#00ffff"/>
<rect x="206" y="232" width="6" height="2" fill="#00a0ff"/>
<rect x="212" y="234" width="6" height="1" fill="#00a0ff"/>
<rect x="208" y="235" width="3" height="1" fill="#00a0ff"/>
<rect x="207" y="256" width="4" height="1" fill="#00fa00"/>
<rect x="207" y="254" width="4" height="2" fill="#00ffff"/>
<rect x="206" y="252" width="6" height="2" fill="#00a0ff"/>
<rect x="212" y="250" width="5" height="2" fill="#00a0ff"/>
<rect x="207" y="248" width="3" height="1" fill="#00ffff"/>
<rect x="218" y="229" width="4" height="1" fill="#00fa00"/>
<rect x="218" y="230" width="4" height="2" fill="#00ffff"/>
<rect x="217" y="232" width="6" height="2" fill="#00a0ff"/>
<rect x="223" y="234" width="6" height="1" fill="#00a0ff"/>
<rect x="219" y="235" width="3" height="1" fill="#00a0ff"/>
<rect x="219" y="237" width="3" height="1" fill="#00ffff"/>
<rect x="218" y="256" width="4" height="1" fill="#00fa00"/>
<rect x="218" y="254" width="4" height="2" fill="#00ffff"/>
<rect x="217" y="252" width="6" height="2" fill="#00a0ff"/>
<rect x="223" y="250" width="5" height="2" fill="#00a0ff"/>
<rect x="218" y="248" width="3" height="1" fill="#00ffff"/>
<rect x="229" y="229" width="4" height="1" fill="#00fa00"/>
<rect x="229" y="230" width="4" height="2" fill="#00ffff"/>
<rect x="228" y="232" width="6" height="2" fill="#00a0ff"/>
<rect x="234" y="234" width="6" height="1" fill="#00a0ff"/>
<rect x="230" y="235" width="3" height="1" fill="#00a0ff"/>
<rect x="229" y="256" width="4" height="1" fill="#00fa00"/>
<rect x="229" y="254" width="4" height="2" fill="#00ffff"/>
<rect x="228" y="252" width="6" height="2" fill="#00a0ff"/>
<rect x="234" y="250" width="5" height="2" fill="#00a0ff"/>
<rect x="229" y="248" width="3" height="1" fill="#00ffff"/>
<rect x="240" y="229" width="4" height="1" fill="#00fa00"/>
<rect x="240" y="230" width="4" height="2" fill="#00ffff"/>
<rect x="239" y="232" width="6" height="2" fill="#00a0ff"/>
<rect x="245" y="234" width="6" height="1" fill="#00a0ff"/>
<rect x="241" y="235" width="3" height="1" fill="#00a0ff"/>
<rect x="241" y="237" width="3" height="1" fill="#00ffff"/>
<rect x="240" y="256" width="4" height="1" fill="#00fa00"/>
<rect x="240" y="254" width="4" height="2" fill="#00ffff"/>
<rect x="239" y="252" width="6" height="2" fill="#00a0ff"/>
<rect x="245" y="250" width="5" height="2" fill="#00a0ff"/>
<rect x="240" y="248" width="3" height="1" fill="#00ffff"/>
<rect x="251" y="229" width="4" height="1" fill="#00fa00"/>
<rect x="251" y="230" width="4" height="2" fill="#00ffff"/>
<rect x="250" y="232" width="6" height="2" fill="#00a0ff"/>
<rect x="256" y="234" width="6" height="1" fill="#00a0ff"/>
<rect x="252" y="235" width="3" height="1" fill="#00a0ff"/>
<rect x="251" y="256" width="4" height="1" fill="#00fa00"/>
<rect x="251" y="254" width="4" height="2" fill="#00ffff"/>
<rect x="250" y="252" width="6" height="2" fill="#00a0ff"/>
<rect x="256" y="250" width="5" height="2" fill="#00a0ff"/>
<rect x="251" y="248" width="3" height="1" fill="#00ffff"/>
<rect x="327" y="229" width="4" height="1" fill="#00fa00"/>
<rect x="327" y="230" width="4" height="2" fill="#00ffff"/>
<rect x="326" y="232" width="6" height="2" fill="#00a0ff"/>
<rect x="332" y="234" width="6" height="1" fill="#00a0ff"/>
<rect x="328" y="235" width="3" height="1" fill="#00a0ff"/>
<rect x="328" y="237" width="3" height="1" fill="#00ffff"/>
<rect x="327" y="256" width="4" height="1" fill="#00fa00"/>
<rect x="327" y="254" width="4" height="2" fill="#00ffff"/>
<rect x="326" y="252" width="6" height="2" fill="#00a0ff"/>
<rect x="332" y="250" width="5" height="2" fill="#00a0ff"/>
<rect x="327" y="248" width="3" height="1" fill="#00ffff"/>
<rect x="338" y="229" width="4" height="1" fill="#00fa00"/>
<rect x="338" y="230" width="4" height="2" fill="#00ffff"/>
<rect x="337" y="232" width="6" height="2" fill="#00a0ff"/>
<rect x="343" y="234" width="6" height="1" fill="#00a0ff"/>
<rect x="339" y="235" width="3" height="1" fill="#00a0ff"/>
<rect x="338" y="256" width="4" height="1" fill="#00fa00"/>
<rect x="338" y="254" width="4" height="2" fill="#00ffff"/>
<rect x="337" y="252" width="6" height="2" fill="#00a0ff"/>
<rect x="343" y="250" width="5" height="2" fill="#00a0ff"/>
<rect x="338" y="248" width="3" height="1" fill="#00ffff"/>
<rect x="349" y="229" width="4" height="1" fill="#00fa00"/>
<rect x="349" y="230" width="4" height="2" fill="#00ffff"/>
<rect x="348" y="232" width="6" height="2" fill="#00a0ff"/>
<rect x="354" y="234" width="6" height="1" fill="#00a0ff"/>
<rect x="350" y="235" width="3" height="1" fill="#00a0ff"/>
<rect x="350" y="237" width="3" height="1" fill="#00ffff"/>
<rect x="349" y="256" width="4" height="1" fill="#00fa00"/>
<rect x="349" y="254" width="4" height="2" fill="#00ffff"/>
<rect x="348" y="252" width="6" height="2" fill="#00a0ff"/>
<rect x="354" y="250" width="5" height="2" fill="#00a0ff"/>
<rect x="349" y="248" width="3" height="1" fill="#00ffff"/>
<rect x="360" y="229" width="4" height="1" fill="#00fa00"/>
<rect x="360" y="230" width="4" height="2" fill="#00ffff"/>
<rect x="359" y="232" width="6" height="2" fill="#00a0ff"/>
<rect x="365" y="234" width="6" height="1" fill="#00a0ff"/>
<rect x="361" y="235" width="3" height="1" fill="#00a0ff"/>
<rect x="360" y="256" width="4" height="1" fill="#00fa00"/>
<rect x="360" y="254" width="4" height="2" fill="#00ffff"/>
<rect x="359" y="252" width="6" height="2" fill="#00a0ff"/>
<rect x="365" y="250" width="5" height="2" fill="#00a0ff"/>
<rect x="360" y="248" width="3" height="1" fill="#00ffff"/>
<rect x="371" y="229" width="4" height="1" fill="#00fa00"/>
<rect x="371" y="230" width="4" height="2" fill="#00ffff"/>
<rect x="370" y="232" width="6" height="2" fill="#00a0ff"/>
<rect x="376" y="234" width="6" height="1" fill="#00a0ff"/>
<rect x="372" y="235" width="3" height="1" fill="#00a0ff"/>
<rect x="372" y="237" width="3" height="1" fill="#00ffff"/>
<rect x="371" y="256" width="4" height="1" fill="#00fa00"/>
<rect x="371" y="254" width="4" height="2" fill="#00ffff"/>
<rect x="370" y="252" width="6" height="2" fill="#00a0ff"/>
<rect x="376" y="250" width="5" height="2" fill="#00a0ff"/>
<rect x="371" y="248" width="3" height="1" fill="#00ffff"/>
<rect x="382" y="229" width="4" height="1" fill="#00fa00"/>
<rect x="382" y="230" width="4" height="2" fill="#00ffff"/>
<rect x="381" y="232" width="6" height="2" fill="#00a0ff"/>
<rect x="387" y="234" width="6" height="1" fill="#00a0ff"/>
<rect x="383" y="235" width="3" height="1" fill="#00a0ff"/>
<rect x="382" y="256" width="4" height="1" fill="#00fa00"/>
<rect x="382" y="254" width="4" height="2" fill="#00ffff"/>
<rect x="381" y="252" width="6" height="2" fill="#00a0ff"/>
<rect x="387" y="250" width="5" height="2" fill="#00a0ff"/>
<rect x="382" y="248" width="3" height="1" fill="#00ffff"/>
<rect x="392" y="229" width="4" height="1" fill="#00fa00"/>
<rect x="392" y="230" width="4" height="2" fill="#00ffff"/>
<rect x="391" y="232" width="6" height="2" fill="#00a0ff"/>
<rect x="397" y="234" width="6" height="1" fill="#00a0ff"/>
<rect x="393" y="235" width="3" height="1" fill="#00a0ff"/>
<rect x="393" y="237" width="3" height="1" fill="#00ffff"/>
<rect x="392" y="256" width="4" height="1" fill="#00fa00"/>
<rect x="392" y="254" width="4" height="2" fill="#00ffff"/>
<rect x="391" y="252" width="6" height="2" fill="#00a0ff"/>
<rect x="397" y="250" width="5" height="2" fill="#00a0ff"/>
<rect x="392" y="248" width="3" height="1" fill="#00ffff"/>
<rect x="403" y="229" width="4" height="1" fill="#00fa00"/>
<rect x="403" y="230" width="4" height="2" fill="#00ffff"/>
<rect x="402" y="232" width="6" height="2" fill="#00a0ff"/>
<rect x="408" y="234" width="6" height="1" fill="#00a0ff"/>
<rect x="404" y="235" width="3" height="1" fill="#00a0ff"/>
<rect x="403" y="256" width="4" height="1" fill="#00fa00"/>
<rect x="403" y="254" width="4" height="2" fill="#00ffff"/>
<rect x="402" y="252" width="6" height="2" fill="#00a0ff"/>
<rect x="408" y="250" width="5" height="2" fill="#00a0ff"/>
<rect x="403" y="248" width="3" height="1" fill="#00ffff"/>
<rect x="414" y="229" width="4" height="1" fill="#00fa00"/>
<rect x="414" y="230" width="4" height="2" fill="#00ffff"/>
<rect x="413" y="232" width="6" height="2" fill="#00a0ff"/>
<rect x="419" y="234" width="6" height="1" fill="#00a0ff"/>
<rect x="415" y="235" width="3" height="1" fill="#00a0ff"/>
<rect x="415" y="237" width="3" height="1" fill="#00ffff"/>
<rect x="414" y="256" width="4" height="1" fill="#00fa00"/>
<rect x="414" y="254" width="4" height="2" fill="#00ffff"/>
<rect x="413" y="252" width="6" height="2" fill="#00a0ff"/>
<rect x="419" y="250" width="5" height="2" fill="#00a0ff"/>
<rect x="414" y="248" width="3" height="1" fill="#00ffff"/>
<rect x="425" y="229" width="4" height="1" fill="#00fa00"/>
<rect x="425" y="230" width="4" height="2" fill="#00ffff"/>
<rect x="424" y="232" width="6" height="2" fill="#00a0ff"/>
<rect x="430" y="234" width="6" height="1" fill="#00a0ff"/>
<rect x="426" y="235" width="3" height="1" fill="#00a0ff"/>
<rect x="425" y="256" width="4" height="1" fill="#00fa00"/>
<rect x="425" y="254" width="4" height="2" fill="#00ffff"/>
<rect x="424" y="252" width="6" height="2" fill="#00a0ff"/>
<rect x="430" y="250" width="5" height="2" fill="#00a0ff"/>
<rect x="425" y="248" width="3" height="1" fill="#00ffff"/>
<rect x="436" y="229" width="4" height="1" fill="#00fa00"/>
<rect x="436" y="230" width="4" height="2" fill="#00ffff"/>
<rect x="435" y="232" width="6" height="2" fill="#00a0ff"/>
<rect x="441" y="234" width="6" height="1" fill="#00a0ff"/>
<rect x="437" y="235" width="3" height="1" fill="#00a0ff"/>
<rect x="437" y="237" width="3" height="1" fill="#00ffff"/>
<rect x="436" y="256" width="4" height="1" fill="#00fa00"/>
<rect x="436" y="254" width="4" height="2" fill="#00ffff"/>
<rect x="435" y="252" width="6" height="2" fill="#00a0ff"/>
<rect x="441" y="250" width="5" height="2" fill="#00a0ff"/>
<rect x="436" y="248" width="3" height="1" fill="#00ffff"/>
<rect x="447" y="229" width="4" height="1" fill="#00fa00"/>
<rect x="447" y="230" width="4" height="2" fill="#00ffff"/>
<rect x="446" y="232" width="6" height="2" fill="#00a0ff"/>
<rect x="452" y="234" width="6" height="1" fill="#00a0ff"/>
<rect x="448" y="235" width="3" height="1" fill="#00a0ff"/>
<rect x="447" y="256" width="4" height="1" fill="#00fa00"/>
<rect x="447" y="254" width="4" height="2" fill="#00ffff"/>
<rect x="446" y="252" width="6" height="2" fill="#00a0ff"/>
<rect x="452" y="250" width="5" height="2" fill="#00a0ff"/>
<rect x="447" y="248" width="3" height="1" fill="#00ffff"/>
<rect x="458" y="229" width="4" height="1" fill="#00fa00"/>
<rect x="458" y="230" width="4" height="2" fill="#00ffff"/>
<rect x="457" y="232" width="6" height="2" fill="#00a0ff"/>
<rect x="463" y="234" width="6" height="1" fill="#00a0ff"/>
<rect x="459" y="235" width="3" height="1" fill="#00a0ff"/>
<rect x="459" y="237" width="3" height="1" fill="#00ffff"/>
<rect x="458" y="256" width="4" height="1" fill="#00fa00"/>
<rect x="458" y="254" width="4" height="2" fill="#00ffff"/>
<rect x="457" y="252" width="6" height="2" fill="#00a0ff"/>
<rect x="463" y="250" width="5" height="2" fill="#00a0ff"/>
<rect x="458" y="248" width="3" height="1" fill="#00ffff"/>
<rect x="469" y="229" width="4" height="1" fill="#00fa00"/>
<rect x="469" y="230" width="4" height="2" fill="#00ffff"/>
<rect x="468" y="232" width="6" height="2" fill="#00a0ff"/>
<rect x="474" y="234" width="6" height="1" fill="#00a0ff"/>
<rect x="470" y="235" width="3" height="1" fill="#00a0ff"/>
<rect x="469" y="256" width="4" height="1" fill="#00fa00"/>
<rect x="469" y="254" width="4" height="2" fill="#00ffff"/>
<rect x="468" y="252" width="6" height="2" fill="#00a0ff"/>
<rect x="474" y="250" width="5" height="2" fill="#00a0ff"/>
<rect x="469" y="248" width="3" height="1" fill="#00ffff"/>
<rect x="480" y="229" width="4" height="1" fill="#00fa00"/>
<rect x="480" y="230" width="4" height="2" fill="#00ffff"/>
<rect x="479" y="232" width="6" height="2" fill="#00a0ff"/>
<rect x="485" y="234" width="6" height="1" fill="#00a0ff"/>
<rect x="481" y="235" width="3" height="1" fill="#00a0ff"/>
<rect x="481" y="237" width="3" height="1" fill="#00ffff"/>
<rect x="480" y="256" width="4" height="1" fill="#00fa00"/>
<rect x="480" y="254" width="4" height="2" fill="#00ffff"/>
<rect x="479" y="252" width="6" height="2" fill="#00a0ff"/>
<rect x="485" y="250" width="5" height="2" fill="#00a0ff"/>
<rect x="480" y="248" width="3" height="1" fill="#00ffff"/>
<rect x="491" y="229" width="4" height="1" fill="#00fa00"/>
<rect x="491" y="230" width="4" height="2" fill="#00ffff"/>
<rect x="490" y="232" width="6" height="2" fill="#00a0ff"/>
<rect x="496" y="234" width="6" height="1" fill="#00a0ff"/>
<rect x="492" y="235" width="3" height="1" fill="#00a0ff"/>
<rect x="491" y="256" width="4" height="1" fill="#00fa00"/>
<rect x="491" y="254" width="4" height="2" fill="#00ffff"/>
<rect x="490" y="252" width="6" height="2" fill="#00a0ff"/>
<rect x="496" y="250" width="5" height="2" fill="#00a0ff"/>
<rect x="491" y="248" width="3" height="1" fill="#00ffff"/>
<rect x="501" y="229" width="4" height="1" fill="#00fa00"/>
<rect x="501" y="230" width="4" height="2" fill="#00ffff"/>
<rect x="500" y="232" width="6" height="2" fill="#00a0ff"/>
<rect x="506" y="234" width="6" height="1" fill="#00a0ff"/>
<rect x="502" y="235" width="3" height="1" fill="#00a0ff"/>
<rect x="502" y="237" width="3" height="1" fill="#00ffff"/>
<rect x="501" y="256" width="4" height="1" fill="#00fa00"/>
<rect x="501" y="254" width="4" height="2" fill="#00ffff"/>
<rect x="500" y="252" width="6" height="2" fill="#00a0ff"/>
<rect x="506" y="250" width="5" height="2" fill="#00a0ff"/>
<rect x="501" y="248" width="3" height="1" fill="#00ffff"/>
<rect x="512" y="229" width="4" height="1" fill="#00fa00"/>
<rect x="512" y="230" width="4" height="2" fill="#00ffff"/>
<rect x="511" y="232" width="6" height="2" fill="#00a0ff"/>
<rect x="517" y="234" width="6" height="1" fill="#00a0ff"/>
<rect x="513" y="235" width="3" height="1" fill="#00a0ff"/>
<rect x="512" y="256" width="4" height="1" fill="#00fa00"/>
<rect x="512" y="254" width="4" height="2" fill="#00ffff"/>
<rect x="511" y="252" width="6" height="2" fill="#00a0ff"/>
<rect x="517" y="250" width="5" height="2" fill="#00a0ff"/>
<rect x="512" y="248" width="3" height="1" fill="#00ffff"/>
<rect x="523" y="229" width="4" height="1" fill="#00fa00"/>
<rect x="523" y="230" width="4" height="2" fill="#00ffff"/>
<rect x="522" y="232" width="6" height="2" fill="#00a0ff"/>
<rect x="528" y="234" width="6" height="1" fill="#00a0ff"/>
<rect x="524" y="235" width="3" height="1" fill="#00a0ff"/>
<rect x="524" y="237" width="3" height="1" fill="#00ffff"/>
<rect x="523" y="256" width="4" height="1" fill="#00fa00"/>
<rect x="523" y="254" width="4" height="2" fill="#00ffff"/>
<rect x="522" y="252" width="6" height="2" fill="#00a0ff"/>
<rect x="528" y="250" width="5" height="2" fill="#00a0ff"/>
<rect x="523" y="248" width="3" height="1" fill="#00ffff"/>
<rect x="534" y="229" width="4" height="1" fill="#00fa00"/>
<rect x="534" y="230" width="4" height="2" fill="#00ffff"/>
<rect x="533" y="232" width="6" height="2" fill="#00a0ff"/>
<rect x="539" y="234" width="6" height="1" fill="#00a0ff"/>
<rect x="535" y="235" width="3" height="1" fill="#00a0ff"/>
<rect x="534" y="256" width="4" height="1" fill="#00fa00"/>
<rect x="534" y="254" width="4" height="2" fill="#00ffff"/>
<rect x="533" y="252" width="6" height="2" fill="#00a0ff"/>
<rect x="539" y="250" width="5" height="2" fill="#00a0ff"/>
<rect x="534" y="248" width="3" height="1" fill="#00ffff"/>
<rect x="545" y="229" width="4" height="1" fill="#00fa00"/>
<rect x="545" y="230" width="4" height="2" fill="#00ffff"/>
<rect x="544" y="232" width="6" height="2" fill="#00a0ff"/>
<rect x="550" y="234" width="6" height="1" fill="#00a0ff"/>
<rect x="546" y="235" width="3" height="1" fill="#00a0ff"/>
<rect x="546" y="237" width="3" height="1" fill="#00ffff"/>
<rect x="545" y="256" width="4" height="1" fill="#00fa00"/>
<rect x="545" y="254" width="4" height="2" fill="#00ffff"/>
<rect x="544" y="252" width="6" height="2" fill="#00a0ff"/>
<rect x="550" y="250" width="5" height="2" fill="#00a0ff"/>
<rect x="545" y="248" width="3" height="1" fill="#00ffff"/>
<rect x="556" y="229" width="4" height="1" fill="#00fa00"/>
<rect x="556" y="230" width="4" height="2" fill="#00ffff"/>
<rect x="555" y="232" width="6" height="2" fill="#00a0ff"/>
<rect x="561" y="234" width="6" height="1" fill="#00a0ff"/>
<rect x="557" y="235" width="3" height="1" fill="#00a0ff"/>
<rect x="556" y="256" width="4" height="1" fill="#00fa00"/>
<rect x="556" y="254" width="4" height="2" fill="#00ffff"/>
<rect x="555" y="252" width="6" height="2" fill="#00a0ff"/>
<rect x="561" y="250" width="5" height="2" fill="#00a0ff"/>
<rect x="556" y="248" width="3" height="1" fill="#00ffff"/>
<rect x="567" y="229" width="4" height="1" fill="#00fa00"/>
<rect x="567" y="230" width="4" height="2" fill="#00ffff"/>
<rect x="566" y="232" width="6" height="2" fill="#00a0ff"/>
<rect x="572" y="234" width="6" height="1" fill="#00a0ff"/>
<rect x="568" y="235" width="3" height="1" fill="#00a0ff"/>
<rect x="568" y="237" width="3" height="1" fill="#00ffff"/>
<rect x="567" y="256" width="4" height="1" fill="#00fa00"/>
<rect x="567" y="254" width="4" height="2" fill="#00ffff"/>
<rect x="566" y="252" width="6" height="2" fill="#00a0ff"/>
<rect x="572" y="250" width="5" height="2" fill="#00a0ff"/>
<rect x="567" y="248" width="3" height="1" fill="#00ffff"/>
<rect x="578" y="229" width="4" height="1" fill="#00fa00"/>
<rect x="578" y="230" width="4" height="2" fill="#00ffff"/>
<rect x="577" y="232" width="6" height="2" fill="#00a0ff"/>
<rect x="583" y="234" width="6" height="1" fill="#00a0ff"/>
<rect x="579" y="235" width="3" height="1" fill="#00a0ff"/>
<rect x="578" y="256" width="4" height="1" fill="#00fa00"/>
<rect x="578" y="254" width="4" height="2" fill="#00ffff"/>
<rect x="577" y="252" width="6" height="2" fill="#00a0ff"/>
<rect x="583" y="250" width="5" height="2" fill="#00a0ff"/>
<rect x="578" y="248" width="3" height="1" fill="#00ffff"/>
<rect x="589" y="229" width="4" height="1" fill="#00fa00"/>
<rect x="589" y="230" width="4" height="2" fill="#00ffff"/>
<rect x="588" y="232" width="6" height="2" fill="#00a0ff"/>
<rect x="594" y="234" width="6" height="1" fill="#00a0ff"/>
<rect x="590" y="235" width="3" height="1" fill="#00a0ff"/>
<rect x="590" y="237" width="3" height="1" fill="#00ffff"/>
<rect x="589" y="256" width="4" height="1" fill="#00fa00"/>
<rect x="589" y="254" width="4" height="2" fill="#00ffff"/>
<rect x="588" y="252" width="6" height="2" fill="#00a0ff"/>
<rect x="594" y="250" width="5" height="2" fill="#00a0ff"/>
<rect x="589" y="248" width="3" height="1" fill="#00ffff"/>
<rect x="600" y="229" width="4" height="1" fill="#00fa00"/>
<rect x="600" y="230" width="4" height="2" fill="#00ffff"/>
<rect x="599" y="232" width="6" height="2" fill="#00a0ff"/>
<rect x="605" y="234" width="6" height="1" fill="#00a0ff"/>
<rect x="601" y="235" width="3" height="1" fill="#00a0ff"/>
<rect x="600" y="256" width="4" height="1" fill="#00fa00"/>
<rect x="600" y="254" width="4" height="2" fill="#00ffff"/>
<rect x="599" y="252" width="6" height="2" fill="#00a0ff"/>
<rect x="605" y="250" width="5" height="2" fill="#00a0ff"/>
<rect x="600" y="248" width="3" height="1" fill="#00ffff"/>
<rect x="610" y="229" width="4" height="1" fill="#00fa00"/>
<rect x="610" y="230" width="4" height="2" fill="#00ffff"/>
<rect x="609" y="232" width="6" height="2" fill="#00a0ff"/>
<rect x="615" y="234" width="6" height="1" fill="#00a0ff"/>
<rect x="611" y="235" width="3" height="1" fill="#00a0ff"/>
<rect x="611" y="237" width="3" height="1" fill="#00ffff"/>
<rect x="610" y="256" width="4" height="1" fill="#00fa00"/>
<rect x="610" y="254" width="4" height="2" fill="#00ffff"/>
<rect x="609" y="252" width="6" height="2" fill="#00a0ff"/>
<rect x="615" y="250" width="5" height="2" fill="#00a0ff"/>
<rect x="610" y="248" width="3" height="1" fill="#00ffff"/>
<rect x="621" y="229" width="4" height="1" fill="#00fa00"/>
<rect x="621" y="230" width="4" height="2" fill="#00ffff"/>
<rect x="620" y="232" width="6" height="2" fill="#00a0ff"/>
<rect x="626" y="234" width="6" height="1" fill="#00a0ff"/>
<rect x="622" y="235" width="3" height="1" fill="#00a0ff"/>
<rect x="621" y="256" width="4" height="1" fill="#00fa00"/>
<rect x="621" y="254" width="4" height="2" fill="#00ffff"/>
<rect x="620" y="252" width="6" height="2" fill="#00a0ff"/>
<rect x="626" y="250" width="5" height="2" fill="#00a0ff"/>
<rect x="621" y="248" width="3" height="1" fill="#00ffff"/>
<rect x="632" y="229" width="4" height="1" fill="#00fa00"/>
<rect x="632" y="230" width="4" height="2" fill="#00ffff"/>
<rect x="631" y="232" width="6" height="2" fill="#00a0ff"/>
<rect x="637" y="234" width="6" height="1" fill="#00a0ff"/>
<rect x="633" y="235" width="3" height="1" fill="#00a0ff"/>
<rect x="633" y="237" width="3" height="1" fill="#00ffff"/>
<rect x="632" y="256" width="4" height="1" fill="#00fa00"/>
<rect x="632" y="254" width="4" height="2" fill="#00ffff"/>
<rect x="631" y="252" width="6" height="2" fill="#00a0ff"/>
<rect x="637" y="250" width="5" height="2" fill="#00a0ff"/>
<rect x="632" y="248" width="3" height="1" fill="#00ffff"/>
<rect x="676" y="229" width="4" height="1" fill="#00fa00"/>
<rect x="676" y="230" width="4" height="2" fill="#00ffff"/>
<rect x="675" y="232" width="6" height="2" fill="#00a0ff"/>
<rect x="681" y="234" width="6" height="1" fill="#00a0ff"/>
<rect x="677" y="235" width="3" height="1" fill="#00a0ff"/>
<rect x="677" y="237" width="3" height="1" fill="#00ffff"/>
<rect x="676" y="256" width="4" height="1" fill="#00fa00"/>
<rect x="676" y="254" width="4" height="2" fill="#00ffff"/>
<rect x="675" y="252" width="6" height="2" fill="#00a0ff"/>
<rect x="681" y="250" width="5" height="2" fill="#00a0ff"/>
<rect x="676" y="248" width="3" height="1" fill="#00ffff"/>
<rect x="687" y="229" width="4" height="1" fill="#00fa00"/>
<rect x="687" y="230" width="4" height="2" fill="#00ffff"/>
<rect x="686" y="232" width="6" height="2" fill="#00a0ff"/>
<rect x="692" y="234" width="6" height="1" fill="#00a0ff"/>
<rect x="688" y="235" width="3" height="1" fill="#00a0ff"/>
<rect x="687" y="256" width="4" height="1" fill="#00fa00"/>
<rect x="687" y="254" width="4" height="2" fill="#00ffff"/>
<rect x="686" y="252" width="6" height="2" fill="#00a0ff"/>
<rect x="692" y="250" width="5" height="2" fill="#00a0ff"/>
<rect x="687" y="248" width="3" height="1" fill="#00ffff"/>
<rect x="698" y="229" width="4" height="1" fill="#00fa00"/>
<rect x="698" y="230" width="4" height="2" fill="#00ffff"/>
<rect x="697" y="232" width="6" height="2" fill="#00a0ff"/>
<rect x="703" y="234" width="6" height="1" fill="#00a0ff"/>
<rect x="699" y="235" width="3" height="1" fill="#00a0ff"/>
<rect x="699" y="237" width="3" height="1" fill="#00ffff"/>
<rect x="698" y="256" width="4" height="1" fill="#00fa00"/>
<rect x="698" y="254" width="4" height="2" fill="#00ffff"/>
<rect x="697" y="252" width="6" height="2" fill="#00a0ff"/>
<rect x="703" y="250" width="5" height="2" fill="#00a0ff"/>
<rect x="698" y="248" width="3" height="1" fill="#00ffff"/>
<rect x="709" y="229" width="4" height="1" fill="#00fa00"/>
<rect x="709" y="230" width="4" height="2" fill="#00ffff"/>
<rect x="708" y="232" width="6" height="2" fill="#00a0ff"/>
<rect x="714" y="234" width="6" height="1" fill="#00a0ff"/>
<rect x="710" y="235" width="3" height="1" fill="#00a0ff"/>
<rect x="709" y="256" width="4" height="1" fill="#00fa00"/>
<rect x="709" y="254" width="4" height="2" fill="#00ffff"/>
<rect x="708" y="252" width="6" height="2" fill="#00a0ff"/>
<rect x="714" y="250" width="5" height="2" fill="#00a0ff"/>
<rect x="709" y="248" width="3" height="1" fill="#00ffff"/>
<rect x="719" y="229" width="4" height="1" fill="#00fa00"/>
<rect x="719" y="230" width="4" height="2" fill="#00ffff"/>
<rect x="718" y="232" width="6" height="2" fill="#00a0ff"/>
<rect x="724" y="234" width="6" height="1" fill="#00a0ff"/>
<rect x="720" y="235" width="3" height="1" fill="#00a0ff"/>
<rect x="720" y="237" width="3" height="1" fill="#00ffff"/>
<rect x="719" y="256" width="4" height="1" fill="#00fa00"/>
<rect x="719" y="254" width="4" height="2" fill="#00ffff"/>
<rect x="718" y="252" width="6" height="2" fill="#00a0ff"/>
<rect x="724" y="250" width="5" height="2" fill="#00a0ff"/>
<rect x="719" y="248" width="3" height="1" fill="#00ffff"/>
<rect x="92" y="233" width="168" height="1" fill="#00a0ff"/>
<rect x="92" y="252" width="168" height="1" fill="#00a0ff"/>
<rect x="323" y="233" width="314" height="1" fill="#00a0ff"/>
<rect x="323" y="252" width="314" height="1" fill="#00a0ff"/>
<rect x="673" y="233" width="48" height="1" fill="#00a0ff"/>
<rect x="673" y="252" width="48" height="1" fill="#00a0ff"/>
<rect x="335" y="234" width="5" height="2" fill="#0050ff"/>
<rect x="352" y="234" width="5" height="2" fill="#0050ff"/>
<rect x="368" y="234" width="5" height="2" fill="#0050ff"/>
<rect x="384" y="234" width="5" height="2" fill="#0050ff"/>
<rect x="372" y="234" width="5" height="2" fill="#0050ff"/>
<rect x="347" y="234" width="5" height="2" fill="#0050ff"/>
<rect x="100" y="241.7" width="12.5" height="1.5" fill="#ff0000"/>
<rect x="114" y="241.7" width="8" height="1.5" fill="#ff0000"/>
<rect x="139" y="241.7" width="6" height="1.5" fill="#ff0000"/>
<rect x="150.5" y="241.7" width="10.5" height="1.5" fill="#ff0000"/>
<rect x="208" y="241.7" width="6" height="1.5" fill="#ff0000"/>
<rect x="225" y="241.7" width="13" height="1.5" fill="#ff0000"/>
<rect x="239.5" y="241.7" width="2.5" height="1.5" fill="#ff0000"/>
<rect x="334" y="241.7" width="3" height="1.5" fill="#ff0000"/>
<rect x="349" y="241.7" width="3" height="1.5" fill="#ff0000"/>
<rect x="461.5" y="241.7" width="6.5" height="1.5" fill="#ff0000"/>
<rect x="487.5" y="241.7" width="6.5" height="1.5" fill="#ff0000"/>
<rect x="582" y="241.7" width="8.7" height="1.5" fill="#ff0000"/>
<rect x="615" y="241.7" width="7" height="1.5" fill="#ff0000"/>
<rect x="624" y="241.7" width="22" height="1.5" fill="#ff0000"/>
<rect x="640" y="241.7" width="6" height="1.5" fill="#ff0000"/>
<rect x="689" y="241.7" width="23" height="1.5" fill="#ff0000"/>
<rect x="360" y="241.7" width="7" height="1.5" fill="#ff0000"/>
<rect x="392" y="241.7" width="18" height="1.5" fill="#ff0000"/>
<rect x="169" y="244.3" width="11" height="1.3" fill="#ffa500"/>
<rect x="182.5" y="244.3" width="7.5" height="1.3" fill="#ffa500"/>
<rect x="191" y="244.3" width="12" height="1.3" fill="#ffa500"/>
<rect x="203" y="244.3" width="13" height="1.3" fill="#ffa500"/>
<rect x="353" y="244.3" width="8" height="1.3" fill="#ffa500"/>
<rect x="364" y="244.3" width="13" height="1.3" fill="#ffa500"/>
<rect x="277" y="244.3" width="6" height="1.3" fill="#ffa500"/>
<rect x="230" y="244.3" width="6" height="1.3" fill="#ffa500"/>
<rect x="168" y="239.8" width="2.2" height="1.2" fill="#ffa500"/>
<rect x="211" y="240" width="2.2" height="1.2" fill="#ffa500"/>
<rect x="259" y="240" width="2.2" height="1.2" fill="#ffa500"/>
<rect x="324" y="240" width="2.2" height="1.2" fill="#ffa500"/>
<rect x="278" y="240.2" width="2.2" height="1.2" fill="#ffa500"/>
<rect x="277" y="245" width="2.2" height="1.2" fill="#ffa500"/>
<rect x="305" y="246" width="2.2" height="1.2" fill="#ffa500"/>
<rect x="502" y="240.5" width="2.2" height="1.2" fill="#ffa500"/>
<rect x="614" y="240.5" width="2.2" height="1.2" fill="#ffa500"/>
<rect x="550" y="241" width="2.2" height="1.2" fill="#ffa500"/>
<rect x="578" y="240" width="2.2" height="1.2" fill="#ffa500"/>
<rect x="295" y="240" width="2.2" height="1.2" fill="#ffa500"/>
<rect x="655" y="240" width="2.2" height="1.2" fill="#ffa500"/>
<rect x="669" y="237.5" width="2.2" height="1.2" fill="#ffa500"/>
<rect x="282" y="247" width="2.2" height="1.2" fill="#ffa500"/>
<rect x="650" y="247" width="2.2" height="1.2" fill="#ffa500"/>
<polyline points="90,100.25 105,99.62 126.25,99 133.75,97.12 157.5,97.5 190,97.12 196.25,100.25 187.5,104 177.5,107.12 166.25,106.5 161.88,107.12" fill="none" stroke="#000" stroke-width="1"/>
<polyline points="166.25,107.12 170,111.5 177.5,114.62 190,116.5 203,117.75 209.25,112.75 214.25,109.62 218,112.12 223,109.62 235.5,107.75 244.25,107.12 259.25,107.12 268,109 280.5,108.38 295.5,104.62 310.5,104 314.25,107.12 316,110.88 322.25,114 334.75,117.12 337.25,121.5 338.5,124.62 353.5,125.25 356,123.38 359.75,125.88 363.5,125.25 371,120.88 381,116.5 391,114 403.5,114 416,112.12 429,110.25 437.75,114 445.25,113.38 451.5,112.12 460.25,114 464.62,110.25 461.5,107.12 457.75,103.38 460.25,100.25 470.25,97.75 479,96.5 489,95.88 499,96.5 505.25,100.88 511.5,104 515.88,107.12 511.5,110.88 506.5,114 510.25,117.75 511.5,121.5 516.5,124.62 522.75,125.88 527.75,121.5 529,116.5 527.75,112.75 530.25,109.62 536.5,109.62 542,111.5 550.75,110.25 560.75,109.62 571.38,109.62 574.5,114 578.25,115.88 584.5,115.25 592,113.38 602,114 608.25,110.25 614.5,107.75 617,102.75 623.25,100.25 635.75,97.75 640,97.12 647.5,97.75 656.25,99.62 665,101.5 677.5,103.38 685,102.75 696.25,100.25 706.25,99.62 722.5,99" fill="none" stroke="#000" stroke-width="1"/>
<polyline points="90,149 92.5,149 101.25,146.5 105,142.75 106.25,136.5 108.12,130.88 112.5,129.62 117.5,125.25 121.88,120.25 120.62,114 122.5,109 121.25,106.5 118.75,103.38 122.5,101.5 127.5,102.12 131.25,103.38 126.25,106.5 128.75,110.25 133.75,114 130,117.75 130,120.88 133.75,125.25 140,129.62 143.75,134 146.25,140.25 151.25,144 160,146.5 170,147.75 180,151.5 190,152.12 203,151.5 203,148.38 210.5,150.25 219.25,152.12 250.5,152.12 255.5,149 263,147.75 269.25,144 280.5,140.88 289.25,142.12 293,145.25 303,146.5 316,145.88 316,145.25 328.5,144 341,145.88 353.5,145.25 359.75,142.12 363.5,138.38 366,144 372.25,146.5 381,148.38 391,146.5 403.5,146.5 416,147.75 429,146.5 429,146.5 457.75,149 470.25,150.25 479,147.75 485.25,149 494,151.5 504,152.75 516.5,153.38 529,155.25 536.5,157.75 542,159 542,157.75 549.5,156.5 554.5,154.62 567,155.88 579.5,156.5 585.75,155.25 597,149 604.5,145.88 614.5,144 619.5,146.5 629.5,150.25 640,148.38 640,148.38 652.5,150.25 665,147.12 678.75,140.88 692.5,147.12 705,149 722.5,149" fill="none" stroke="#000" stroke-width="1"/>
<polyline points="542,153.38 548.25,152.12 554.5,150.25 567,152.12 579.5,153.38 592,152.12 597,149" fill="none" stroke="#000" stroke-width="1"/>
<polygon points="146.88,103.38 151.25,102.5 157.5,102.75 161.25,103.75 157.5,105 151.25,104.62" fill="none" stroke="#000" stroke-width="1"/>
<polygon points="447.12,103.38 450.25,101.5 452.75,103.38 450.25,105.25" fill="none" stroke="#000" stroke-width="1"/>
<polygon points="440.25,124 443.38,122.12 445.88,124 443.38,125.88" fill="none" stroke="#000" stroke-width="1"/>
<polygon points="524,106.5 529,106.5 530.25,108.38 526.5,109" fill="none" stroke="#000" stroke-width="1"/>
<polygon points="595.12,124 599.5,120.88 603.25,120.25 605.75,124 599.5,127.12" fill="none" stroke="#000" stroke-width="1"/>
<polygon points="181.25,136.5 185,131.5 193.75,127.12 198.75,127.75 200,131.5 197.5,135.25 190,138.38 183.75,139" fill="none" stroke="#000" stroke-width="1"/>
<polygon points="240.5,127.75 244.25,124 253,123.38 258,125.88 259.25,129 253,130.88 245.5,130.5" fill="none" stroke="#000" stroke-width="1"/>
<polygon points="389.12,129 392.25,127.12 398.5,127.75 406,131.5 409.12,135.25 406,137.75 398.5,137.12 393.5,134" fill="none" stroke="#000" stroke-width="1"/>
<polygon points="452.12,135.88 456.5,132.12 464,130.5 470.25,131.25 477.12,135.25 475.25,139 469,140.88 461.5,140.25 454,138.38" fill="none" stroke="#000" stroke-width="1"/>
<polygon points="487.75,130.25 492.75,127.75 500.25,128.38 506.5,130.88 511.5,135.25 507.75,140.25 504,144 497.75,145.25 491.5,142.75 488.38,137.75" fill="none" stroke="#000" stroke-width="1"/>
<polygon points="534.62,137.75 539,134 542,132.75 549.5,130.88 558.25,127.75 567,127.12 575.75,127.12 583.25,130.25 592,134 597,135.88 604.5,136.5 609.5,137.75 604.5,140.25 597,142.12 592,145.25 583.25,147.75 574.5,147.75 567,146.5 554.5,146.5 547,145.25 542,142.75 539,141.5" fill="none" stroke="#000" stroke-width="1"/>
<polygon points="641.38,134 644.5,127.75 650.75,124.62 655,124 655,124 660,126.5 664.38,132.12 662.5,136.5 657.5,140.88 653.75,142.12 647.5,140.25 643.12,137.75" fill="none" stroke="#000" stroke-width="1"/>
<polygon points="669.38,124.62 672.5,123.38 674.38,125.88 673.12,128.38 670,127.75" fill="none" stroke="#000" stroke-width="1"/>
<polygon points="680.62,130.88 683.75,129.62 692.5,130.25 702.5,129.62 712.5,129.62 716.88,132.75 716.25,135.88 710,138.38 700,139.62 690,137.75 683.75,135.25" fill="none" stroke="#000" stroke-width="1"/>
<polyline points="90,334.38 102.5,332.5 110,331.88 117.5,333.12 122.5,338.75 125,341.88 131.25,340 137.5,340.62 142.5,345 147.5,347.5 152.5,346.25 160,341.88 170,340 177.5,337.5 185,338.75 196.25,339.38 203,340.25 215.5,338.12 228,335.62 240.5,333.12 253,331.88 278,333.75 295.5,334.38 303,331.25 310.5,329.38 316,331.25 323.5,329.38 332.25,328.75 341,330.62 347.25,335 354.75,338.75 362.25,342.5 366,343.75 371,341.25 378.5,339.38 391,338.12 403.5,336.88 416,336.88 429,338.75 435.25,341.25 440.25,343.75 447.75,341.25 460.25,338.75 470.25,336.25 479,336.88 491.5,339.38 504,338.12 510.25,338.75 516.5,342.5 521.5,346.25 527.75,342.5 535.25,340 542,338.75 549.5,340 558.25,336.25 567,335.62 574.5,338.75 583.25,341.25 592,342.5 602,343.75 609.5,341.88 617,340 640,338.12 652.5,338.75 665,339.38 677.5,341.25 690,339.38 702.5,335.62 722.5,334.38" fill="none" stroke="#000" stroke-width="1"/>
<polyline points="90,362.5 92.5,362.5 97.5,361.25 105,358.12 115,356.88 121.25,355.62 123.12,351.25 118.75,347.5 110,345.62 102.5,341.88 90,341" fill="none" stroke="#000" stroke-width="1"/>
<polygon points="161.25,351.88 167.5,349.38 177.5,348.12 190,347.5 197.5,347.5 195,350 190,351.88 185,351.88 180,350.62 176.25,353.12 173.75,355.62 162.5,356" fill="none" stroke="#000" stroke-width="1"/>
<polyline points="90,368.12 102.5,366.88 112.5,366.25 120,365 126.25,362.5 132.5,363.75 140,365.62 150,366.88 161.25,368.12 177.5,368.12 192.5,367.5 197.5,365 203,361.25 215.5,362.5 230.5,364.38 238,368.75 249.25,369.38 261.75,365.62 273,364.38 280.5,363.75 285.5,361.25 293,363.75 303,368.75 310.5,373.75 316,377.5 323.5,381.88 332.25,383.12 353.5,382.5 359.75,381.25 369.75,382.5 383.5,385 391,386.25 392.25,389.38 387.25,393.12 396,393.75 408.5,393.12 419.75,395 429,394.75 436.5,393.12 444,390.62 441.5,389.38 436.5,386.25 441.5,382.5 445.25,383.12 446.5,388.75 450.25,388.75 456.5,386.25 463.38,383.12 459,377.5 462.75,373.12 472.75,371.25 480.25,371.25 485.25,373.75 494,373.75 497.12,371.88 490.25,369.38 499,366.88 510.25,365.62 521.5,363.75 525.25,367.5 530.25,371.88 542,375.62 549.5,376.88 558.25,376.88 567,374.38 577,371.25 585.75,368.75 594.5,366.88 602,366.25 609.5,368.12 617,370.62 627,372.5 640,373.12 652.5,371.88 665,368.75 677.5,365 681.25,363.75 687.5,366.25 700,368.12 722.5,369.38" fill="none" stroke="#000" stroke-width="1"/>
<polygon points="459.62,390 466.5,385.62 479,381.25 489,379.38 499,380.62 509,381.88 516.5,385 524,386.88 535.25,386.88 542,386.25 542,386.25 545.75,386.88 547,389.38 542,391.88 536.5,394.38 529,393.12 510.25,392.5 495.25,393.12 479,393.12 470.25,390.62" fill="none" stroke="#000" stroke-width="1"/>
<polyline points="291.75,350.25 298,346.88 306.75,345.62 316,343.75 316,340 323.5,340 332.25,341.88 348.5,343.12 357.25,346.25 359.75,350 357.25,354.38 349.75,357.5 341,360 328.5,362.5 316,361.25 309.25,358.12 300.5,355 291.75,350.25" fill="none" stroke="#000" stroke-width="1"/>
<polygon points="366,351.25 371,348.12 381,345.62 396,343.75 411,342.5 423.5,342.5 429,343.75 434,348.12 437.12,351.88 435.25,357.5 429,361.88 418.5,365.62 401,364.38 388.5,361.25 378.5,357.5 369.75,355.62" fill="none" stroke="#000" stroke-width="1"/>
<polygon points="455.25,351.88 460.25,347.5 470.25,345 482.75,344.38 494,346.88 500.88,351.25 497.75,355 485.25,356.25 472.75,358.12 462.75,356.88 457.12,354.38" fill="none" stroke="#000" stroke-width="1"/>
<polygon points="547,362.5 551.38,358.75 553.25,349.38 558.25,347.5 573.25,347.5 584.5,347.5 594.5,348.75 595.75,352.5 592,356.25 584.5,358.12 573.25,360 560.75,363.75 549.5,365" fill="none" stroke="#000" stroke-width="1"/>
<polyline points="722.5,342.5 710,343.75 700,346.25 695,348.12 693.75,351.88 687.5,354.38 680,355.62 676.25,351.88 665,348.12 652.5,346.25 642.5,346.88 635,348.12 640,351.88 645,356.25 648.75,360.62 660,361.25 672.5,358.75 680,355.62 686.25,358.75 693.75,356.88 705,358.75 715,361.25 722.5,362.5" fill="none" stroke="#000" stroke-width="1"/>
<polyline points="90,393.12 111.25,393.12 117.5,393.75 116.25,396.88 108.75,397.5 108.75,400" fill="none" stroke="#000" stroke-width="1"/>
<polygon points="177.5,393.5 185,392.5 190,393.12 186.25,394.38 180,394" fill="none" stroke="#000" stroke-width="1"/>
<polyline points="722.5,388.75 710,390 702.5,392.5 695,393.5 697.5,396.88 702.5,397.5 710,397.25 713.12,400" fill="none" stroke="#000" stroke-width="1"/>
<polyline points="92,213.65 98,213.47 104,213.43 110,213.52 116,213.69 122,213.86 128,213.97 134,213.98 140,213.91 146,213.8 152,213.71 158,213.71 164,213.84 170,214.09 176,214.42 182,214.74 188,214.98 194,215.09 200,215.04 206,214.88 212,214.66 218,214.45 224,214.33 230,214.3 236,214.36 242,214.45 248,214.5 254,214.46 260,214.29 266,214.03 272,213.72 278,213.44 284,213.28 290,213.26 296,213.39 302,213.63 308,213.9 314,214.12 320,214.25 326,214.27 332,214.21 338,214.13 344,214.1 350,214.17 356,214.35 362,214.6 368,214.87 374,215.08 380,215.15 386,215.08 392,214.86 398,214.57 404,214.27 410,214.05 416,213.93 422,213.94 428,214.01 434,214.09 440,214.12 446,214.05 452,213.88 458,213.65 464,213.44 470,213.31 476,213.33 482,213.49 488,213.77 494,214.1 500,214.4 506,214.61 512,214.68 518,214.64 524,214.54 530,214.44 536,214.4 542,214.46 548,214.61 554,214.8 560,214.95 566,214.99 572,214.89 578,214.66 584,214.33 590,213.99 596,213.72 602,213.56 608,213.54 614,213.64 620,213.78 626,213.91 632,213.96 638,213.91 644,213.79 650,213.65 656,213.57 662,213.59 668,213.76 674,214.04 680,214.38 686,214.7 692,214.93 698,215.01 704,214.96 710,214.8 716,214.61 722,214.45" fill="none" stroke="#000" stroke-width="1.2" stroke-dasharray="6 4"/>
<polyline points="92,270.49 98,270.76 104,271.07 110,271.32 116,271.45 122,271.45 128,271.37 134,271.3 140,271.31 146,271.43 152,271.67 158,271.94 164,272.16 170,272.24 176,272.14 182,271.88 188,271.54 194,271.22 200,271 206,270.93 212,270.98 218,271.08 224,271.15 230,271.13 236,270.98 242,270.77 248,270.56 254,270.45 260,270.5 266,270.72 272,271.05 278,271.42 284,271.7 290,271.85 296,271.85 302,271.74 308,271.61 314,271.53 320,271.57 326,271.7 332,271.88 338,272.01 344,272.01 350,271.84 356,271.54 362,271.17 368,270.83 374,270.62 380,270.57 386,270.66 392,270.84 398,271 404,271.07 410,271.03 416,270.92 422,270.79 428,270.75 434,270.84 440,271.09 446,271.44 452,271.79 458,272.06 464,272.16 470,272.1 476,271.91 482,271.68 488,271.5 494,271.44 500,271.48 506,271.58 512,271.65 518,271.62 524,271.45 530,271.16 536,270.82 542,270.53 548,270.37 554,270.4 560,270.58 566,270.85 572,271.11 578,271.28 584,271.32 590,271.27 596,271.18 602,271.15 608,271.23 614,271.45 620,271.74 626,272.03 632,272.22 638,272.25 644,272.09 650,271.81 656,271.49 662,271.23 668,271.1 674,271.09 680,271.17 686,271.25 692,271.25 698,271.14 704,270.92 710,270.65 716,270.45 722,270.38" fill="none" stroke="#000" stroke-width="1.2" stroke-dasharray="6 4"/>
<polyline points="88.75,161.32 92.5,160.7 100,158.2 106.25,156.32 113.75,153.2 120.62,151.95 120.62,135.7 124.38,131.32 128.75,135.7 130.62,139.45 131.88,144.45 129.38,148.2 126.88,152.58 133.75,153.82 146.25,155.08 157.5,156.32 167.5,157.58 177.5,160.08 185,161.32 192.5,159.45 203,157.95 210.5,159.45 219.25,161.95 234.25,163.82 254.25,163.82 261.75,163.2 268,158.2 273,154.45 281.75,153.2 290.5,156.32 303,156.95 310.5,155.7 316,153.95 328.5,153.82 341,153.2 353.5,153.2 361,151.95 362.88,143.82 365,151.95 368.5,154.45 378.5,156.32 391,155.7 401,153.2 411,152.58 416,153.2 429,154.2 441.5,155.08 456.5,156.32 470.25,158.2 479,155.08 485.25,155.7 494,158.2 504,159.45 516.5,160.08 529,161.95 535.25,164.45 542,165.95 548.25,166.95 554.5,168.2 567,165.95 582,164.7 598.25,161.95 617,158.2 627,161.95 632,163.2 640,160.7 647.5,158.82 656.25,156.32 665,154.45 672.5,151.95 678.75,150.7 685,153.2 692.5,156.32 702.5,158.82 710,160.7 723.75,163.45" fill="none" stroke="#000" stroke-width="1" stroke-dasharray="5 4"/>
<polyline points="88.75,326.42 92.5,326.42 102.5,324.55 115,325.18 122.5,328.92 127.5,330.18 140,330.8 152.5,332.05 161.25,333.3 170,331.42 177.5,329.55 185,330.18 196.25,330.8 203,332.3 209.25,330.8 219.25,328.92 228,327.68 235.5,326.42 240.5,324.55 246.75,323.92 258,324.55 278,325.8 294.25,326.42 303,323.3 310.5,321.42 316,320.3 328.5,319.42 343.5,317.55 346.62,321.3 347.25,325.55 348.5,324.55 354.75,329.55 362.25,333.3 369.75,332.68 378.5,331.42 391,330.18 403.5,329.55 413.5,328.92 423.5,329.55 429,330.18 435.25,331.42 440.25,334.55 447.75,331.42 460.25,329.55 470.25,327.05 479,327.68 489,330.18 499,329.55 504,326.42 510.25,328.3 516.5,332.05 521.5,334.55 527.75,331.42 535.25,328.92 542,327.68 547,324.55 553.25,323.92 562,324.55 572,325.18 577,328.3 584.5,332.05 592,334.55 602,335.18 609.5,333.3 614.5,332.05 629.5,330.8 640,329.8 651.25,328.92 658.75,330.18 671.25,330.8 677.5,332.05 683.75,330.8 693.75,329.55 700,327.68 706.25,326.42 712.5,328.3 723.75,329.55" fill="none" stroke="#000" stroke-width="1" stroke-dasharray="5 4"/>
<polyline points="165,178.5 167.5,176.62 172.5,177.25 174.38,179.12 172.5,181.62" fill="none" stroke="#000" stroke-width="1.3" stroke-dasharray="6 3"/>
<polyline points="97.5,202.25 98.75,197.88 105,194.75 111.25,196 114.38,199.12 113.12,202.25" fill="none" stroke="#000" stroke-width="1.3" stroke-dasharray="6 3"/>
<polyline points="102.5,204.75 107.5,203.25" fill="none" stroke="#000" stroke-width="1.3" stroke-dasharray="6 3"/>
<polyline points="170,198.5 172.5,201 177.5,196.62 182.5,201.62" fill="none" stroke="#000" stroke-width="1.3" stroke-dasharray="6 3"/>
<polyline points="244.25,188.5 246.12,184.75 249.25,183.5 252.38,187.25" fill="none" stroke="#000" stroke-width="1.3" stroke-dasharray="6 3"/>
<polyline points="245.5,192.25 250.5,192.5" fill="none" stroke="#000" stroke-width="1.3" stroke-dasharray="6 3"/>
<polyline points="259.25,196.62 264.25,194.12 266.75,194.75" fill="none" stroke="#000" stroke-width="1.3" stroke-dasharray="6 3"/>
<polyline points="261.75,199.12 266.75,199.75" fill="none" stroke="#000" stroke-width="1.3" stroke-dasharray="6 3"/>
<polyline points="269.88,194.75 271.75,198.5" fill="none" stroke="#000" stroke-width="1.3" stroke-dasharray="6 3"/>
<polyline points="309.25,201 315.5,198.5" fill="none" stroke="#000" stroke-width="1.3" stroke-dasharray="6 3"/>
<polyline points="254.88,166.62 258,168.5 265.5,167.88 268,166" fill="none" stroke="#000" stroke-width="1.3" stroke-dasharray="6 3"/>
<polyline points="333.5,167.25 334.75,169.12" fill="none" stroke="#000" stroke-width="1.3" stroke-dasharray="6 3"/>
<polyline points="338.5,171.62 342.25,174.12 349.12,174.75 349.75,177.88" fill="none" stroke="#000" stroke-width="1.3" stroke-dasharray="6 3"/>
<polyline points="347.25,192.88 349.75,190.38 354.75,191.62 356,194.12 352.25,196 348.5,195.38" fill="none" stroke="#000" stroke-width="1.3" stroke-dasharray="6 3"/>
<polyline points="316,198.5 321,198.25 326,196 334.75,195.38 338.5,197.88" fill="none" stroke="#000" stroke-width="1.3" stroke-dasharray="6 3"/>
<polyline points="318.5,203.25 323.5,202.88 329.75,202.25 333.5,200.38" fill="none" stroke="#000" stroke-width="1.3" stroke-dasharray="6 3"/>
<polyline points="398.5,170.38 403.5,171 408.5,174.75 411,169.75 414.75,168.5" fill="none" stroke="#000" stroke-width="1.3" stroke-dasharray="6 3"/>
<polyline points="416,180.38 421,180.75" fill="none" stroke="#000" stroke-width="1.3" stroke-dasharray="6 3"/>
<polyline points="412.25,207.25 418.5,207.88 424.75,207.25" fill="none" stroke="#000" stroke-width="1.3" stroke-dasharray="6 3"/>
<polyline points="430.25,178.5 435.25,171" fill="none" stroke="#000" stroke-width="1.3" stroke-dasharray="6 3"/>
<polyline points="434,178.5 436.5,181 435.25,182.25" fill="none" stroke="#000" stroke-width="1.3" stroke-dasharray="6 3"/>
<polyline points="452.12,166.62 457.75,169.12" fill="none" stroke="#000" stroke-width="1.3" stroke-dasharray="6 3"/>
<polyline points="472.75,166 476.5,167.88 480.25,166.62" fill="none" stroke="#000" stroke-width="1.3" stroke-dasharray="6 3"/>
<polyline points="502.75,185.38 506.5,184.75 510.25,182.25" fill="none" stroke="#000" stroke-width="1.3" stroke-dasharray="6 3"/>
<polyline points="514,182.25 516.5,184.75 515.25,187.25" fill="none" stroke="#000" stroke-width="1.3" stroke-dasharray="6 3"/>
<polyline points="498.38,189.75 500.88,192.25 506.5,190.38 511.5,189.12" fill="none" stroke="#000" stroke-width="1.3" stroke-dasharray="6 3"/>
<polyline points="482.75,201.62 485.25,202.25 487.75,201" fill="none" stroke="#000" stroke-width="1.3" stroke-dasharray="6 3"/>
<polyline points="470.25,209.75 474,209.12 475.88,206.62" fill="none" stroke="#000" stroke-width="1.3" stroke-dasharray="6 3"/>
<polyline points="479,207.25 481.5,210.38 482.75,212.88" fill="none" stroke="#000" stroke-width="1.3" stroke-dasharray="6 3"/>
<polyline points="542,168.5 545.75,169.12" fill="none" stroke="#000" stroke-width="1.3" stroke-dasharray="6 3"/>
<polyline points="553.25,171.62 557,170.38 559.5,171.62" fill="none" stroke="#000" stroke-width="1.3" stroke-dasharray="6 3"/>
<polyline points="564.5,169.75 568.25,168.5" fill="none" stroke="#000" stroke-width="1.3" stroke-dasharray="6 3"/>
<polyline points="574.5,167.25 579.5,168.5" fill="none" stroke="#000" stroke-width="1.3" stroke-dasharray="6 3"/>
<polyline points="545.75,174.75 550.75,175.38" fill="none" stroke="#000" stroke-width="1.3" stroke-dasharray="6 3"/>
<polyline points="567,197.25 572,195.38" fill="none" stroke="#000" stroke-width="1.3" stroke-dasharray="6 3"/>
<polyline points="577,193.25 582,194.5" fill="none" stroke="#000" stroke-width="1.3" stroke-dasharray="6 3"/>
<polyline points="587,195.38 590.75,196.62 593.25,195.38" fill="none" stroke="#000" stroke-width="1.3" stroke-dasharray="6 3"/>
<polyline points="604.5,192.88 609.5,195.38" fill="none" stroke="#000" stroke-width="1.3" stroke-dasharray="6 3"/>
<polyline points="613.88,196.38 629.5,196.38" fill="none" stroke="#000" stroke-width="1.3" stroke-dasharray="6 3"/>
<polyline points="635.12,192.88 642,190.38" fill="none" stroke="#000" stroke-width="1.3" stroke-dasharray="6 3"/>
<polyline points="647,192.25 652,191.62" fill="none" stroke="#000" stroke-width="1.3" stroke-dasharray="6 3"/>
<polyline points="555.75,202.25 558.25,201.62" fill="none" stroke="#000" stroke-width="1.3" stroke-dasharray="6 3"/>
<polyline points="563.25,201.62 568.25,204.12" fill="none" stroke="#000" stroke-width="1.3" stroke-dasharray="6 3"/>
<polyline points="570.75,211 573.25,207.88" fill="none" stroke="#000" stroke-width="1.3" stroke-dasharray="6 3"/>
<polyline points="597,197.88 597,203.5" fill="none" stroke="#000" stroke-width="1.3" stroke-dasharray="6 3"/>
<polyline points="600.12,197.25 600.75,202.88" fill="none" stroke="#000" stroke-width="1.3" stroke-dasharray="6 3"/>
<polyline points="595.75,208.5 595.75,213.5" fill="none" stroke="#000" stroke-width="1.3" stroke-dasharray="6 3"/>
<polyline points="604.5,206.62 608.25,206" fill="none" stroke="#000" stroke-width="1.3" stroke-dasharray="6 3"/>
<polyline points="613.25,202.88 618.25,205.38 628.25,204.75 638.25,204.12 647,202.25 650.75,203.5" fill="none" stroke="#000" stroke-width="1.3" stroke-dasharray="6 3"/>
<polyline points="640,190.38 647.5,192.5 655,190.38 663.75,190.38" fill="none" stroke="#000" stroke-width="1.3" stroke-dasharray="6 3"/>
<polyline points="668.12,191.62 670.62,195.38" fill="none" stroke="#000" stroke-width="1.3" stroke-dasharray="6 3"/>
<polyline points="643.75,203.5 647.5,202.25 650.62,203.5" fill="none" stroke="#000" stroke-width="1.3" stroke-dasharray="6 3"/>
<polyline points="655,204.12 671.25,204.75" fill="none" stroke="#000" stroke-width="1.3" stroke-dasharray="6 3"/>
<polyline points="676.25,198.5 677.5,202.25" fill="none" stroke="#000" stroke-width="1.3" stroke-dasharray="6 3"/>
<polyline points="682.5,199.12 687.5,201 690,204.75" fill="none" stroke="#000" stroke-width="1.3" stroke-dasharray="6 3"/>
<polyline points="692.5,199.75 698.12,199.12" fill="none" stroke="#000" stroke-width="1.3" stroke-dasharray="6 3"/>
<polyline points="697.5,206 701.25,203.5" fill="none" stroke="#000" stroke-width="1.3" stroke-dasharray="6 3"/>
<polyline points="703.75,199.12 707.5,201.62" fill="none" stroke="#000" stroke-width="1.3" stroke-dasharray="6 3"/>
<polyline points="102.5,273 107.5,274.25" fill="none" stroke="#000" stroke-width="1.3" stroke-dasharray="6 3"/>
<polyline points="97.5,284.88 100,281.75 103.75,281.12" fill="none" stroke="#000" stroke-width="1.3" stroke-dasharray="6 3"/>
<polyline points="108.75,283.62 113.75,280.5" fill="none" stroke="#000" stroke-width="1.3" stroke-dasharray="6 3"/>
<polyline points="113.12,276.12 116.25,274.25" fill="none" stroke="#000" stroke-width="1.3" stroke-dasharray="6 3"/>
<polyline points="116.88,279.25 121.25,283" fill="none" stroke="#000" stroke-width="1.3" stroke-dasharray="6 3"/>
<polyline points="103.75,286.75 108.75,286.12" fill="none" stroke="#000" stroke-width="1.3" stroke-dasharray="6 3"/>
<polyline points="114.38,288.25 119.38,287.38" fill="none" stroke="#000" stroke-width="1.3" stroke-dasharray="6 3"/>
<polyline points="143.75,285.25 149.38,285.25" fill="none" stroke="#000" stroke-width="1.3" stroke-dasharray="6 3"/>
<polyline points="157.5,304.88 161.25,302.38 167.5,302.38" fill="none" stroke="#000" stroke-width="1.3" stroke-dasharray="6 3"/>
<polyline points="167.5,306.12 171.25,303" fill="none" stroke="#000" stroke-width="1.3" stroke-dasharray="6 3"/>
<polyline points="150,311.75 153.12,308.25" fill="none" stroke="#000" stroke-width="1.3" stroke-dasharray="6 3"/>
<polyline points="161.25,314.88 164.38,311.5" fill="none" stroke="#000" stroke-width="1.3" stroke-dasharray="6 3"/>
<polyline points="151.25,316.12 156.25,317" fill="none" stroke="#000" stroke-width="1.3" stroke-dasharray="6 3"/>
<polyline points="254.25,320.5 258,316.12" fill="none" stroke="#000" stroke-width="1.3" stroke-dasharray="6 3"/>
<polyline points="262.38,315.5 264.25,319.25" fill="none" stroke="#000" stroke-width="1.3" stroke-dasharray="6 3"/>
<polyline points="235.5,328 239.25,325.25" fill="none" stroke="#000" stroke-width="1.3" stroke-dasharray="6 3"/>
<polyline points="245.5,323.38 250.5,323.38" fill="none" stroke="#000" stroke-width="1.3" stroke-dasharray="6 3"/>
<polyline points="276.12,282.38 278,284.25 279.88,282" fill="none" stroke="#000" stroke-width="1.3" stroke-dasharray="6 3"/>
<polyline points="285.5,285.5 285.5,281.75 288,281.12" fill="none" stroke="#000" stroke-width="1.3" stroke-dasharray="6 3"/>
<polyline points="291.75,281.5 296.75,282" fill="none" stroke="#000" stroke-width="1.3" stroke-dasharray="6 3"/>
<polyline points="302.38,279.88 309.25,278 313,278.62" fill="none" stroke="#000" stroke-width="1.3" stroke-dasharray="6 3"/>
<polyline points="289.88,288.62 295.5,287.75" fill="none" stroke="#000" stroke-width="1.3" stroke-dasharray="6 3"/>
<polyline points="300.5,289.88 304.25,291.12" fill="none" stroke="#000" stroke-width="1.3" stroke-dasharray="6 3"/>
<polyline points="310.5,291.75 314.25,288" fill="none" stroke="#000" stroke-width="1.3" stroke-dasharray="6 3"/>
<polyline points="309.25,303 308.62,300.5 310.5,299.25" fill="none" stroke="#000" stroke-width="1.3" stroke-dasharray="6 3"/>
<polyline points="351.62,278 356,277.38 358.5,283" fill="none" stroke="#000" stroke-width="1.3" stroke-dasharray="6 3"/>
<polyline points="350.38,286.12 354.75,287.38" fill="none" stroke="#000" stroke-width="1.3" stroke-dasharray="6 3"/>
<polyline points="341.62,290.5 345.38,286.12" fill="none" stroke="#000" stroke-width="1.3" stroke-dasharray="6 3"/>
<polyline points="320.38,287.38 325.38,288" fill="none" stroke="#000" stroke-width="1.3" stroke-dasharray="6 3"/>
<polyline points="330.38,289.25 336.62,289.25" fill="none" stroke="#000" stroke-width="1.3" stroke-dasharray="6 3"/>
<polyline points="316,299.25 319.12,297.38" fill="none" stroke="#000" stroke-width="1.3" stroke-dasharray="6 3"/>
<polyline points="323.5,298 325.38,300.5 324.75,303" fill="none" stroke="#000" stroke-width="1.3" stroke-dasharray="6 3"/>
<polyline points="316,305.5 320.38,304.25" fill="none" stroke="#000" stroke-width="1.3" stroke-dasharray="6 3"/>
<polyline points="319.75,319.25 323.5,320.25" fill="none" stroke="#000" stroke-width="1.3" stroke-dasharray="6 3"/>
<polyline points="331,319.88 334.75,318.25" fill="none" stroke="#000" stroke-width="1.3" stroke-dasharray="6 3"/>
<polyline points="341,316.12 344.75,314.88" fill="none" stroke="#000" stroke-width="1.3" stroke-dasharray="6 3"/>
<polyline points="351,312.38 354.75,313.25" fill="none" stroke="#000" stroke-width="1.3" stroke-dasharray="6 3"/>
<polyline points="353.5,318 353.5,323" fill="none" stroke="#000" stroke-width="1.3" stroke-dasharray="6 3"/>
<polyline points="386,295.5 389.75,293 393.5,291.75 395.38,293.62" fill="none" stroke="#000" stroke-width="1.3" stroke-dasharray="6 3"/>
<polyline points="390.38,299.25 394.75,298.62" fill="none" stroke="#000" stroke-width="1.3" stroke-dasharray="6 3"/>
<polyline points="397.25,286.12 397.25,281.75 399.75,281.5" fill="none" stroke="#000" stroke-width="1.3" stroke-dasharray="6 3"/>
<polyline points="404.12,281.75 408.5,278.62" fill="none" stroke="#000" stroke-width="1.3" stroke-dasharray="6 3"/>
<polyline points="405.38,284.25 407.88,288" fill="none" stroke="#000" stroke-width="1.3" stroke-dasharray="6 3"/>
<polyline points="410.38,278 413.5,277.38" fill="none" stroke="#000" stroke-width="1.3" stroke-dasharray="6 3"/>
<polyline points="419.75,274.25 423.5,272.38" fill="none" stroke="#000" stroke-width="1.3" stroke-dasharray="6 3"/>
<polyline points="421,278 424.75,281.12" fill="none" stroke="#000" stroke-width="1.3" stroke-dasharray="6 3"/>
<polyline points="413.5,289.25 418.5,290.25" fill="none" stroke="#000" stroke-width="1.3" stroke-dasharray="6 3"/>
<polyline points="422.88,291.12 424.12,296.12" fill="none" stroke="#000" stroke-width="1.3" stroke-dasharray="6 3"/>
<polyline points="423.5,300.5 428.5,301.12" fill="none" stroke="#000" stroke-width="1.3" stroke-dasharray="6 3"/>
<polyline points="403.5,326.75 408.5,326.12" fill="none" stroke="#000" stroke-width="1.3" stroke-dasharray="6 3"/>
<polyline points="414.75,326.12 418.5,327.38" fill="none" stroke="#000" stroke-width="1.3" stroke-dasharray="6 3"/>
<polyline points="430.88,283.62 434.62,284.25" fill="none" stroke="#000" stroke-width="1.3" stroke-dasharray="6 3"/>
<polyline points="446.5,285.25 450.25,285.5" fill="none" stroke="#000" stroke-width="1.3" stroke-dasharray="6 3"/>
<polyline points="438.38,287.38 437.75,291.75" fill="none" stroke="#000" stroke-width="1.3" stroke-dasharray="6 3"/>
<polyline points="430.88,294.88 434.62,296.12" fill="none" stroke="#000" stroke-width="1.3" stroke-dasharray="6 3"/>
<polyline points="457.75,299.25 461.5,302.38" fill="none" stroke="#000" stroke-width="1.3" stroke-dasharray="6 3"/>
<polyline points="461.5,296.12 465.25,299.25" fill="none" stroke="#000" stroke-width="1.3" stroke-dasharray="6 3"/>
<polyline points="474,299.25 473.38,303" fill="none" stroke="#000" stroke-width="1.3" stroke-dasharray="6 3"/>
<polyline points="479,298.25 484,298.62" fill="none" stroke="#000" stroke-width="1.3" stroke-dasharray="6 3"/>
<polyline points="480.25,286.75 481.5,284.88 484,284.25" fill="none" stroke="#000" stroke-width="1.3" stroke-dasharray="6 3"/>
<polyline points="488.38,284.25 492.12,285.5" fill="none" stroke="#000" stroke-width="1.3" stroke-dasharray="6 3"/>
<polyline points="485.25,291.12 487.75,295.5" fill="none" stroke="#000" stroke-width="1.3" stroke-dasharray="6 3"/>
<polyline points="492.75,292.38 496.5,295.5" fill="none" stroke="#000" stroke-width="1.3" stroke-dasharray="6 3"/>
<polyline points="477.12,308 480.88,310.12" fill="none" stroke="#000" stroke-width="1.3" stroke-dasharray="6 3"/>
<polyline points="485.88,308.25 492.12,308.62" fill="none" stroke="#000" stroke-width="1.3" stroke-dasharray="6 3"/>
<polyline points="491.5,312.38 492.75,316.12" fill="none" stroke="#000" stroke-width="1.3" stroke-dasharray="6 3"/>
<polyline points="501.5,297.75 506.5,298.38" fill="none" stroke="#000" stroke-width="1.3" stroke-dasharray="6 3"/>
<polyline points="511.5,300.5 515.25,303" fill="none" stroke="#000" stroke-width="1.3" stroke-dasharray="6 3"/>
<polyline points="512.75,311.12 515.88,307.38" fill="none" stroke="#000" stroke-width="1.3" stroke-dasharray="6 3"/>
<polyline points="503.38,314.88 508.38,314" fill="none" stroke="#000" stroke-width="1.3" stroke-dasharray="6 3"/>
<polyline points="500.25,319.25 504,322.38" fill="none" stroke="#000" stroke-width="1.3" stroke-dasharray="6 3"/>
<polyline points="494,321.75 494,326.75" fill="none" stroke="#000" stroke-width="1.3" stroke-dasharray="6 3"/>
<polyline points="454,325.5 458.38,323" fill="none" stroke="#000" stroke-width="1.3" stroke-dasharray="6 3"/>
<polyline points="464,325.5 468.38,326.12" fill="none" stroke="#000" stroke-width="1.3" stroke-dasharray="6 3"/>
<polyline points="473.38,325.5 478.38,327.38" fill="none" stroke="#000" stroke-width="1.3" stroke-dasharray="6 3"/>
<polyline points="509,324.25 514,326.12" fill="none" stroke="#000" stroke-width="1.3" stroke-dasharray="6 3"/>
<polyline points="526.5,284.88 532.75,283.62" fill="none" stroke="#000" stroke-width="1.3" stroke-dasharray="6 3"/>
<polyline points="536.5,285.5 540.25,284.25" fill="none" stroke="#000" stroke-width="1.3" stroke-dasharray="6 3"/>
<polyline points="542,285.5 545.12,283.62" fill="none" stroke="#000" stroke-width="1.3" stroke-dasharray="6 3"/>
<polyline points="547.62,287.75 550.75,285.5" fill="none" stroke="#000" stroke-width="1.3" stroke-dasharray="6 3"/>
<polyline points="548.25,298 551.38,295.5 553.25,295.5" fill="none" stroke="#000" stroke-width="1.3" stroke-dasharray="6 3"/>
<polyline points="556.38,297.38 561.38,298.25" fill="none" stroke="#000" stroke-width="1.3" stroke-dasharray="6 3"/>
<polyline points="566.38,296.12 570.12,293.62" fill="none" stroke="#000" stroke-width="1.3" stroke-dasharray="6 3"/>
<polyline points="576.38,293.62 581.38,293.25" fill="none" stroke="#000" stroke-width="1.3" stroke-dasharray="6 3"/>
<polyline points="586.38,293.62 590.12,297.38" fill="none" stroke="#000" stroke-width="1.3" stroke-dasharray="6 3"/>
<polyline points="582,284.88 585.75,288 589.5,284.88 584.5,284.25" fill="none" stroke="#000" stroke-width="1.3" stroke-dasharray="6 3"/>
<polyline points="549.5,303.62 551.38,308" fill="none" stroke="#000" stroke-width="1.3" stroke-dasharray="6 3"/>
<polyline points="552.62,313.62 556.38,316.75" fill="none" stroke="#000" stroke-width="1.3" stroke-dasharray="6 3"/>
<polyline points="561.38,316.75 566.38,316.12" fill="none" stroke="#000" stroke-width="1.3" stroke-dasharray="6 3"/>
<polyline points="569.5,309.25 571.38,313" fill="none" stroke="#000" stroke-width="1.3" stroke-dasharray="6 3"/>
<polyline points="574.5,307.38 578.88,309.25" fill="none" stroke="#000" stroke-width="1.3" stroke-dasharray="6 3"/>
<polyline points="584.5,306.75 588.88,306.12" fill="none" stroke="#000" stroke-width="1.3" stroke-dasharray="6 3"/>
<polyline points="593.25,301.12 595.12,306.12" fill="none" stroke="#000" stroke-width="1.3" stroke-dasharray="6 3"/>
<polyline points="592,311.75 594.5,313" fill="none" stroke="#000" stroke-width="1.3" stroke-dasharray="6 3"/>
<polyline points="547,323 549.5,319.25" fill="none" stroke="#000" stroke-width="1.3" stroke-dasharray="6 3"/>
<polyline points="554.5,319.25 559.5,320.25" fill="none" stroke="#000" stroke-width="1.3" stroke-dasharray="6 3"/>
<polyline points="564.5,321.12 569.5,321.75" fill="none" stroke="#000" stroke-width="1.3" stroke-dasharray="6 3"/>
<polyline points="575.12,323 579.5,326.12" fill="none" stroke="#000" stroke-width="1.3" stroke-dasharray="6 3"/>
<polyline points="614.5,302 618.25,306.12" fill="none" stroke="#000" stroke-width="1.3" stroke-dasharray="6 3"/>
<polyline points="618.88,301.12 628.25,303" fill="none" stroke="#000" stroke-width="1.3" stroke-dasharray="6 3"/>
<polyline points="653.12,299.25 655.62,296.12 660,295.25 663.12,298" fill="none" stroke="#000" stroke-width="1.3" stroke-dasharray="6 3"/>
<polyline points="656.88,302.38 663.12,302.75" fill="none" stroke="#000" stroke-width="1.3" stroke-dasharray="6 3"/>
<polyline points="694.38,324.25 697.5,320.25" fill="none" stroke="#000" stroke-width="1.3" stroke-dasharray="6 3"/>
<polyline points="701.25,322.38 704.38,326.12" fill="none" stroke="#000" stroke-width="1.3" stroke-dasharray="6 3"/>
<polyline points="710,326.12 714.38,328" fill="none" stroke="#000" stroke-width="1.3" stroke-dasharray="6 3"/>
<polyline points="655,326.5 660.62,326.25" fill="none" stroke="#000" stroke-width="1.3" stroke-dasharray="6 3"/>
<polyline points="666.25,327 670.62,328.62" fill="none" stroke="#000" stroke-width="1.3" stroke-dasharray="6 3"/>
<polyline points="112.5,159 116.88,154" fill="none" stroke="#000" stroke-width="1.3" stroke-dasharray="6 3"/>
<polyline points="103.75,160.25 108.75,159.62" fill="none" stroke="#000" stroke-width="1.3" stroke-dasharray="6 3"/>
<polyline points="270.5,159 273,155.88" fill="none" stroke="#000" stroke-width="1.3" stroke-dasharray="6 3"/>
<polyline points="280.5,154 285.5,153.38" fill="none" stroke="#000" stroke-width="1.3" stroke-dasharray="6 3"/>
<polyline points="290.5,157.75 294.25,159" fill="none" stroke="#000" stroke-width="1.3" stroke-dasharray="6 3"/>
<polyline points="319.75,155.88 324.12,157.12" fill="none" stroke="#000" stroke-width="1.3" stroke-dasharray="6 3"/>
<polyline points="329.75,157.75 334.12,157.75" fill="none" stroke="#000" stroke-width="1.3" stroke-dasharray="6 3"/>
<polyline points="346,156.5 345.38,160.25" fill="none" stroke="#000" stroke-width="1.3" stroke-dasharray="6 3"/>
<polyline points="351.62,154.62 356,154.62" fill="none" stroke="#000" stroke-width="1.3" stroke-dasharray="6 3"/>
<polyline points="362.25,154 365.38,157.75" fill="none" stroke="#000" stroke-width="1.3" stroke-dasharray="6 3"/>
<polyline points="371,159 376,159.38" fill="none" stroke="#000" stroke-width="1.3" stroke-dasharray="6 3"/>
<polyline points="381,159.62 386,159" fill="none" stroke="#000" stroke-width="1.3" stroke-dasharray="6 3"/>
<polyline points="390.38,156.5 394.75,153.38" fill="none" stroke="#000" stroke-width="1.3" stroke-dasharray="6 3"/>
<polyline points="399.75,162.75 406,162.12" fill="none" stroke="#000" stroke-width="1.3" stroke-dasharray="6 3"/>
<polyline points="411,162.75 416,164" fill="none" stroke="#000" stroke-width="1.3" stroke-dasharray="6 3"/>
<polyline points="432.75,154.62 437.75,154.25" fill="none" stroke="#000" stroke-width="1.3" stroke-dasharray="6 3"/>
<polyline points="444,155.25 448.38,154.38" fill="none" stroke="#000" stroke-width="1.3" stroke-dasharray="6 3"/>
<polyline points="464.62,158.38 467.75,160.88" fill="none" stroke="#000" stroke-width="1.3" stroke-dasharray="6 3"/>
<polyline points="480.25,157.75 481.5,155.25 484,155" fill="none" stroke="#000" stroke-width="1.3" stroke-dasharray="6 3"/>
<polyline points="487.75,157.12 494,159" fill="none" stroke="#000" stroke-width="1.3" stroke-dasharray="6 3"/>
<polyline points="499,160.25 504,159" fill="none" stroke="#000" stroke-width="1.3" stroke-dasharray="6 3"/>
<polyline points="510.25,159 516.5,159.38" fill="none" stroke="#000" stroke-width="1.3" stroke-dasharray="6 3"/>
<polyline points="520.25,160.25 524,162.75" fill="none" stroke="#000" stroke-width="1.3" stroke-dasharray="6 3"/>
<polyline points="643.75,162.12 647.5,160.88" fill="none" stroke="#000" stroke-width="1.3" stroke-dasharray="6 3"/>
<polyline points="653.75,157.12 657.5,156.25" fill="none" stroke="#000" stroke-width="1.3" stroke-dasharray="6 3"/>
<polyline points="663.75,154.62 667.5,154" fill="none" stroke="#000" stroke-width="1.3" stroke-dasharray="6 3"/>
<polyline points="698.75,159 703.75,159.62" fill="none" stroke="#000" stroke-width="1.3" stroke-dasharray="6 3"/>
<polyline points="707.5,162.12 713.75,162.75" fill="none" stroke="#000" stroke-width="1.3" stroke-dasharray="6 3"/>
</g>
</defs>
<g clip-path="url(#cp)">
<use href="#plot" stroke-opacity="0"/>
<use href="#plot" mask="url(#lm)"/>
</g>
<g id="contour-labels">
<text x="266.5" y="94" font-size="16" textLength="30.5" lengthAdjust="spacingAndGlyphs" stroke="#000" stroke-width="0.5">0.00</text>
<text x="577" y="95.5" font-size="16" textLength="31" lengthAdjust="spacingAndGlyphs" stroke="#000" stroke-width="0.5">0.00</text>
<text x="220" y="141" font-size="16" textLength="48.5" lengthAdjust="spacingAndGlyphs" stroke="#000" stroke-width="0.5">0.0161</text>
<text x="219.5" y="162" font-size="16" textLength="31" lengthAdjust="spacingAndGlyphs" stroke="#000" stroke-width="0.5">0.00</text>
<text x="409" y="150" font-size="16" textLength="49" lengthAdjust="spacingAndGlyphs" stroke="#000" stroke-width="0.5">0.0161</text>
<text x="584.5" y="164" font-size="16" textLength="31" lengthAdjust="spacingAndGlyphs" stroke="#000" stroke-width="0.5" transform="rotate(-9 584.5 164)">0.00</text>
<text x="252" y="345" font-size="16" textLength="48" lengthAdjust="spacingAndGlyphs" stroke="#000" stroke-width="0.5">0.0161</text>
<text x="260.5" y="335" font-size="16" textLength="31.5" lengthAdjust="spacingAndGlyphs" stroke="#000" stroke-width="0.5">0.00</text>
<text x="365" y="378" font-size="16" textLength="48" lengthAdjust="spacingAndGlyphs" stroke="#000" stroke-width="0.5">0.0161</text>
<text x="558.5" y="373.5" font-size="16" textLength="50" lengthAdjust="spacingAndGlyphs" stroke="#000" stroke-width="0.5" transform="rotate(-14 558.5 373.5)">0.0161</text>
<text x="615.5" y="341" font-size="16" textLength="31.5" lengthAdjust="spacingAndGlyphs" stroke="#000" stroke-width="0.5" transform="rotate(-5 615.5 341)">0.00</text>
<text x="264.5" y="221" font-size="16" textLength="31.5" lengthAdjust="spacingAndGlyphs" stroke="#000" stroke-width="0.5">0.00</text>
<text x="265" y="232" font-size="16" textLength="31.5" lengthAdjust="spacingAndGlyphs" stroke="#000" stroke-width="0.5" transform="rotate(-4 265 232)">0.00</text>
<text x="263" y="243" font-size="16" textLength="31.5" lengthAdjust="spacingAndGlyphs" stroke="#000" stroke-width="0.5">0.00</text>
<text x="268" y="254" font-size="16" textLength="31.5" lengthAdjust="spacingAndGlyphs" stroke="#000" stroke-width="0.5">0.00</text>
<text x="264" y="264" font-size="16" textLength="31.5" lengthAdjust="spacingAndGlyphs" stroke="#000" stroke-width="0.5" transform="rotate(-3 264 264)">0.00</text>
<text x="264" y="273.5" font-size="16" textLength="31.5" lengthAdjust="spacingAndGlyphs" stroke="#000" stroke-width="0.5">0.00</text>
<text x="638.5" y="222" font-size="16" textLength="31.5" lengthAdjust="spacingAndGlyphs" stroke="#000" stroke-width="0.5">0.00</text>
<text x="640" y="232" font-size="16" textLength="31.5" lengthAdjust="spacingAndGlyphs" stroke="#000" stroke-width="0.5" transform="rotate(-5 640 232)">0.00</text>
<text x="642" y="243" font-size="16" textLength="31.5" lengthAdjust="spacingAndGlyphs" stroke="#000" stroke-width="0.5">0.00</text>
<text x="640" y="254" font-size="16" textLength="31.5" lengthAdjust="spacingAndGlyphs" stroke="#000" stroke-width="0.5" transform="rotate(4 640 254)">0.00</text>
<text x="640" y="264" font-size="16" textLength="31.5" lengthAdjust="spacingAndGlyphs" stroke="#000" stroke-width="0.5">0.00</text>
<text x="640.5" y="273.5" font-size="16" textLength="31.5" lengthAdjust="spacingAndGlyphs" stroke="#000" stroke-width="0.5" transform="rotate(-3 640.5 273.5)">0.00</text>
</g>
<!-- frame -->
<rect x="92" y="86" width="629" height="314" fill="none" stroke="#000" stroke-width="2"/>
<g fill="#000" stroke="none">
<rect x="109" y="397" width="1" height="3"/><rect x="109" y="86" width="1" height="4"/>
<rect x="127" y="397" width="1" height="3"/><rect x="127" y="86" width="1" height="4"/>
<rect x="144" y="393" width="2" height="7"/><rect x="144" y="86" width="2" height="7"/>
<rect x="162" y="397" width="1" height="3"/><rect x="162" y="86" width="1" height="4"/>
<rect x="180" y="397" width="1" height="3"/><rect x="180" y="86" width="1" height="4"/>
<rect x="197" y="397" width="1" height="3"/><rect x="197" y="86" width="1" height="4"/>
<rect x="215" y="397" width="1" height="3"/><rect x="215" y="86" width="1" height="4"/>
<rect x="232" y="393" width="2" height="7"/><rect x="232" y="86" width="2" height="7"/>
<rect x="250" y="397" width="1" height="3"/><rect x="250" y="86" width="1" height="4"/>
<rect x="267" y="397" width="1" height="3"/><rect x="267" y="86" width="1" height="4"/>
<rect x="285" y="397" width="1" height="3"/><rect x="285" y="86" width="1" height="4"/>
<rect x="303" y="397" width="1" height="3"/><rect x="303" y="86" width="1" height="4"/>
<rect x="320" y="393" width="2" height="7"/><rect x="320" y="86" width="2" height="7"/>
<rect x="338" y="397" width="1" height="3"/><rect x="338" y="86" width="1" height="4"/>
<rect x="355" y="397" width="1" height="3"/><rect x="355" y="86" width="1" height="4"/>
<rect x="373" y="397" width="1" height="3"/><rect x="373" y="86" width="1" height="4"/>
<rect x="390" y="397" width="1" height="3"/><rect x="390" y="86" width="1" height="4"/>
<rect x="407" y="393" width="2" height="7"/><rect x="407" y="86" width="2" height="7"/>
<rect x="426" y="397" width="1" height="3"/><rect x="426" y="86" width="1" height="4"/>
<rect x="443" y="397" width="1" height="3"/><rect x="443" y="86" width="1" height="4"/>
<rect x="461" y="397" width="1" height="3"/><rect x="461" y="86" width="1" height="4"/>
<rect x="478" y="397" width="1" height="3"/><rect x="478" y="86" width="1" height="4"/>
<rect x="495" y="393" width="2" height="7"/><rect x="495" y="86" width="2" height="7"/>
<rect x="513" y="397" width="1" height="3"/><rect x="513" y="86" width="1" height="4"/>
<rect x="531" y="397" width="1" height="3"/><rect x="531" y="86" width="1" height="4"/>
<rect x="549" y="397" width="1" height="3"/><rect x="549" y="86" width="1" height="4"/>
<rect x="566" y="397" width="1" height="3"/><rect x="566" y="86" width="1" height="4"/>
<rect x="583" y="393" width="2" height="7"/><rect x="583" y="86" width="2" height="7"/>
<rect x="601" y="397" width="1" height="3"/><rect x="601" y="86" width="1" height="4"/>
<rect x="619" y="397" width="1" height="3"/><rect x="619" y="86" width="1" height="4"/>
<rect x="636" y="397" width="1" height="3"/><rect x="636" y="86" width="1" height="4"/>
<rect x="654" y="397" width="1" height="3"/><rect x="654" y="86" width="1" height="4"/>
<rect x="671" y="393" width="2" height="7"/><rect x="671" y="86" width="2" height="7"/>
<rect x="689" y="397" width="1" height="3"/><rect x="689" y="86" width="1" height="4"/>
<rect x="707" y="397" width="1" height="3"/><rect x="707" y="86" width="1" height="4"/>
<rect x="92" y="382" width="8" height="2"/><rect x="713" y="382" width="8" height="2"/>
<rect x="92" y="365" width="5" height="1"/><rect x="716" y="365" width="5" height="1"/>
<rect x="92" y="347" width="8" height="2"/><rect x="713" y="347" width="8" height="2"/>
<rect x="92" y="330" width="5" height="1"/><rect x="716" y="330" width="5" height="1"/>
<rect x="92" y="312" width="8" height="2"/><rect x="713" y="312" width="8" height="2"/>
<rect x="92" y="295" width="5" height="1"/><rect x="716" y="295" width="5" height="1"/>
<rect x="92" y="277" width="8" height="2"/><rect x="713" y="277" width="8" height="2"/>
<rect x="92" y="260" width="5" height="1"/><rect x="716" y="260" width="5" height="1"/>
<rect x="92" y="242" width="8" height="2"/><rect x="713" y="242" width="8" height="2"/>
<rect x="92" y="225" width="5" height="1"/><rect x="716" y="225" width="5" height="1"/>
<rect x="92" y="207" width="8" height="2"/><rect x="713" y="207" width="8" height="2"/>
<rect x="92" y="190" width="5" height="1"/><rect x="716" y="190" width="5" height="1"/>
<rect x="92" y="172" width="8" height="2"/><rect x="713" y="172" width="8" height="2"/>
<rect x="92" y="155" width="5" height="1"/><rect x="716" y="155" width="5" height="1"/>
<rect x="92" y="137" width="8" height="2"/><rect x="713" y="137" width="8" height="2"/>
<rect x="92" y="120" width="5" height="1"/><rect x="716" y="120" width="5" height="1"/>
<rect x="92" y="102" width="8" height="2"/><rect x="713" y="102" width="8" height="2"/>
</g>
<!-- colour bar -->
<g stroke="#000" stroke-width="2" stroke-linejoin="miter">
<polygon points="739,138 746,113.5 753,138" fill="#ff0000"/>
<rect x="739" y="138" width="14" height="26" fill="#ffa500"/>
<rect x="739" y="164" width="14" height="25.5" fill="#ffff00"/>
<rect x="739" y="189.5" width="14" height="25.5" fill="#00fa00"/>
<rect x="739" y="215" width="14" height="26" fill="#00ffff"/>
<rect x="739" y="241" width="14" height="25.5" fill="#00a0ff"/>
<polygon points="739,266.5 746,292 753,266.5" fill="#0050ff"/>
</g>
<g class="n" font-size="16.3">
<text y="143.8"><tspan x="762.6" textLength="41.5" lengthAdjust="spacingAndGlyphs">0.032</tspan></text>
<text y="169.4"><tspan x="762.6" textLength="41.5" lengthAdjust="spacingAndGlyphs">0.016</tspan></text>
<text y="195"><tspan x="762.6" textLength="8.9" lengthAdjust="spacingAndGlyphs">0</tspan></text>
<text y="220.6"><tspan x="760.7" dy="-1.4" textLength="14.1" lengthAdjust="spacingAndGlyphs">-</tspan><tspan x="774.6" dy="1.4" textLength="41.5" lengthAdjust="spacingAndGlyphs">0.016</tspan></text>
<text y="246.2"><tspan x="760.7" dy="-1.4" textLength="14.1" lengthAdjust="spacingAndGlyphs">-</tspan><tspan x="774.6" dy="1.4" textLength="41.5" lengthAdjust="spacingAndGlyphs">0.032</tspan></text>
<text y="271.8"><tspan x="760.7" dy="-1.4" textLength="14.1" lengthAdjust="spacingAndGlyphs">-</tspan><tspan x="774.6" dy="1.4" textLength="41.5" lengthAdjust="spacingAndGlyphs">0.048</tspan></text>
<text y="107.9"><tspan x="66.1" textLength="17.8" lengthAdjust="spacingAndGlyphs">80</tspan></text>
<text y="142.9"><tspan x="66.1" textLength="17.8" lengthAdjust="spacingAndGlyphs">60</tspan></text>
<text y="177.9"><tspan x="66.1" textLength="17.8" lengthAdjust="spacingAndGlyphs">40</tspan></text>
<text y="212.9"><tspan x="66.1" textLength="17.8" lengthAdjust="spacingAndGlyphs">20</tspan></text>
<text y="247.9"><tspan x="75" textLength="8.9" lengthAdjust="spacingAndGlyphs">0</tspan></text>
<text y="282.9"><tspan x="52.2" dy="-1.4" textLength="14.1" lengthAdjust="spacingAndGlyphs">-</tspan><tspan x="66.1" dy="1.4" textLength="17.8" lengthAdjust="spacingAndGlyphs">20</tspan></text>
<text y="317.9"><tspan x="52.2" dy="-1.4" textLength="14.1" lengthAdjust="spacingAndGlyphs">-</tspan><tspan x="66.1" dy="1.4" textLength="17.8" lengthAdjust="spacingAndGlyphs">40</tspan></text>
<text y="352.9"><tspan x="52.2" dy="-1.4" textLength="14.1" lengthAdjust="spacingAndGlyphs">-</tspan><tspan x="66.1" dy="1.4" textLength="17.8" lengthAdjust="spacingAndGlyphs">60</tspan></text>
<text y="387.9"><tspan x="52.2" dy="-1.4" textLength="14.1" lengthAdjust="spacingAndGlyphs">-</tspan><tspan x="66.1" dy="1.4" textLength="17.8" lengthAdjust="spacingAndGlyphs">80</tspan></text>
<text y="419.1"><tspan x="124.2" dy="-1.4" textLength="14.1" lengthAdjust="spacingAndGlyphs">-</tspan><tspan x="138.1" dy="1.4" textLength="26.4" lengthAdjust="spacingAndGlyphs">150</tspan></text>
<text y="419.1"><tspan x="211.3" dy="-1.4" textLength="14.1" lengthAdjust="spacingAndGlyphs">-</tspan><tspan x="225.2" dy="1.4" textLength="26.4" lengthAdjust="spacingAndGlyphs">100</tspan></text>
<text y="419.1"><tspan x="304.1" dy="-1.4" textLength="14.1" lengthAdjust="spacingAndGlyphs">-</tspan><tspan x="318" dy="1.4" textLength="17.8" lengthAdjust="spacingAndGlyphs">50</tspan></text>
<text y="419.1"><tspan x="404" textLength="8.9" lengthAdjust="spacingAndGlyphs">0</tspan></text>
<text y="419.1"><tspan x="487.3" textLength="17.8" lengthAdjust="spacingAndGlyphs">50</tspan></text>
<text y="419.1"><tspan x="571.4" textLength="26.4" lengthAdjust="spacingAndGlyphs">100</tspan></text>
<text y="419.1"><tspan x="659.7" textLength="26.4" lengthAdjust="spacingAndGlyphs">150</tspan></text>
</g>
<text y="45.3" font-size="25"><tspan x="92.5" textLength="30.5" lengthAdjust="spacingAndGlyphs">toa</tspan> <tspan x="144.5" textLength="118.5" lengthAdjust="spacingAndGlyphs">shortwave</tspan> <tspan x="280.5" textLength="76.5" lengthAdjust="spacingAndGlyphs">albedo</tspan></text>
<text y="74" font-size="19"><tspan x="92.5" textLength="19" lengthAdjust="spacingAndGlyphs">(W</tspan> <tspan x="128.8" textLength="14.2" lengthAdjust="spacingAndGlyphs">m</tspan><tspan x="143.1" dy="-1.5" textLength="17.1" lengthAdjust="spacingAndGlyphs">-</tspan><tspan x="160.6" dy="1.5" textLength="20.6" lengthAdjust="spacingAndGlyphs">2)</tspan></text>
<text x="596.5" y="76" font-size="16" textLength="124" lengthAdjust="spacingAndGlyphs">ECMWF_peaked</text>
<text transform="translate(41 242) rotate(-90)" font-size="20" text-anchor="middle" textLength="73" lengthAdjust="spacingAndGlyphs">latitude</text>
<text class="n" x="16.5" y="427.5" font-size="13" textLength="120" lengthAdjust="spacingAndGlyphs">(degrees_north)</text>
<text class="n" x="631" y="437.5" font-size="13" textLength="113" lengthAdjust="spacingAndGlyphs">(degrees_east)</text>
<text x="394" y="463.5" font-size="20" textLength="26" lengthAdjust="spacingAndGlyphs">lon</text>
<text y="482.3" font-size="14.2"><tspan x="596.7" textLength="4.3" lengthAdjust="spacingAndGlyphs">[</tspan> <tspan x="609.1" textLength="34" lengthAdjust="spacingAndGlyphs">(diff)</tspan> <tspan x="651.1" textLength="30.9" lengthAdjust="spacingAndGlyphs">from</tspan> <tspan x="691.8" textLength="48.6" lengthAdjust="spacingAndGlyphs">(mean)</tspan> <tspan x="748.4" textLength="35.4" lengthAdjust="spacingAndGlyphs">zonal</tspan> <tspan x="791.4" textLength="12.8" lengthAdjust="spacingAndGlyphs">of</tspan> <tspan x="812.7" textLength="46.3" lengthAdjust="spacingAndGlyphs">control</tspan> <tspan x="867" textLength="4.4" lengthAdjust="spacingAndGlyphs">]</tspan></text>
<text y="498" font-size="14.2"><tspan x="596.7" textLength="4.3" lengthAdjust="spacingAndGlyphs">[</tspan> <tspan x="609.1" textLength="76.5" lengthAdjust="spacingAndGlyphs">time=1302</tspan> <tspan x="693.5" textLength="36.3" lengthAdjust="spacingAndGlyphs">hours</tspan> <tspan x="737.8" textLength="35.4" lengthAdjust="spacingAndGlyphs">since</tspan> <tspan x="780.8" textLength="34.9" lengthAdjust="spacingAndGlyphs">2000</tspan><tspan x="814.8" dy="-1" textLength="13.2" lengthAdjust="spacingAndGlyphs">-</tspan><tspan x="827.7" dy="1" textLength="14.6" lengthAdjust="spacingAndGlyphs">09</tspan><tspan x="841.5" dy="-1" textLength="12.1" lengthAdjust="spacingAndGlyphs">-</tspan><tspan x="853.4" dy="1" textLength="17.1" lengthAdjust="spacingAndGlyphs">01</tspan> <tspan x="882" textLength="19.5" lengthAdjust="spacingAndGlyphs">00:</tspan></text>
</svg>
</body>
</html>
